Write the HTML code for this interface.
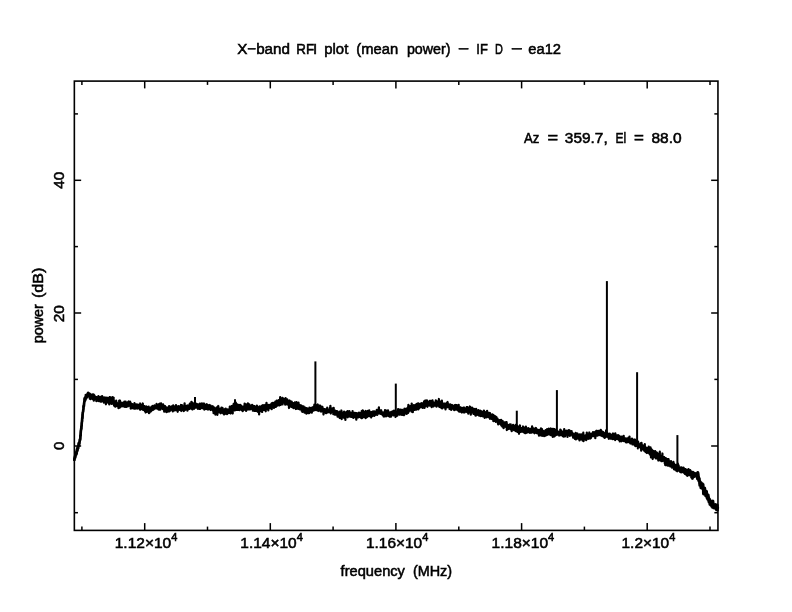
<!DOCTYPE html>
<html><head><meta charset="utf-8"><title>X-band RFI plot</title>
<style>
html,body{margin:0;padding:0;background:#fff;}
body{width:792px;height:612px;overflow:hidden;}
svg{display:block;}
.t{font-family:"Liberation Sans",sans-serif;font-size:15.2px;fill:#000;stroke:#000;stroke-width:0.55px;}
</style></head><body>
<svg width="792" height="612" viewBox="0 0 792 612">
<rect width="792" height="612" fill="#fff"/>
<g stroke="#000" stroke-width="1.6" fill="none" stroke-linecap="butt">
<rect x="74.35" y="81.1" width="643.6" height="449.29999999999995"/>
</g>
<g stroke="#000" stroke-width="1.5" fill="none">
<line x1="144.7" y1="530.4" x2="144.7" y2="523.1"/><line x1="144.7" y1="81.1" x2="144.7" y2="88.39999999999999"/>
<line x1="270.3" y1="530.4" x2="270.3" y2="523.1"/><line x1="270.3" y1="81.1" x2="270.3" y2="88.39999999999999"/>
<line x1="395.9" y1="530.4" x2="395.9" y2="523.1"/><line x1="395.9" y1="81.1" x2="395.9" y2="88.39999999999999"/>
<line x1="521.6" y1="530.4" x2="521.6" y2="523.1"/><line x1="521.6" y1="81.1" x2="521.6" y2="88.39999999999999"/>
<line x1="647.2" y1="530.4" x2="647.2" y2="523.1"/><line x1="647.2" y1="81.1" x2="647.2" y2="88.39999999999999"/>
<line x1="81.9" y1="530.4" x2="81.9" y2="526.6"/><line x1="81.9" y1="81.1" x2="81.9" y2="84.89999999999999"/>
<line x1="207.5" y1="530.4" x2="207.5" y2="526.6"/><line x1="207.5" y1="81.1" x2="207.5" y2="84.89999999999999"/>
<line x1="333.1" y1="530.4" x2="333.1" y2="526.6"/><line x1="333.1" y1="81.1" x2="333.1" y2="84.89999999999999"/>
<line x1="458.8" y1="530.4" x2="458.8" y2="526.6"/><line x1="458.8" y1="81.1" x2="458.8" y2="84.89999999999999"/>
<line x1="584.4" y1="530.4" x2="584.4" y2="526.6"/><line x1="584.4" y1="81.1" x2="584.4" y2="84.89999999999999"/>
<line x1="710.0" y1="530.4" x2="710.0" y2="526.6"/><line x1="710.0" y1="81.1" x2="710.0" y2="84.89999999999999"/>
<line x1="74.35" y1="180.3" x2="81.14999999999999" y2="180.3"/><line x1="717.95" y1="180.3" x2="711.1500000000001" y2="180.3"/>
<line x1="74.35" y1="313.0" x2="81.14999999999999" y2="313.0"/><line x1="717.95" y1="313.0" x2="711.1500000000001" y2="313.0"/>
<line x1="74.35" y1="446.0" x2="81.14999999999999" y2="446.0"/><line x1="717.95" y1="446.0" x2="711.1500000000001" y2="446.0"/>
<line x1="74.35" y1="113.9" x2="77.94999999999999" y2="113.9"/><line x1="717.95" y1="113.9" x2="714.35" y2="113.9"/>
<line x1="74.35" y1="246.6" x2="77.94999999999999" y2="246.6"/><line x1="717.95" y1="246.6" x2="714.35" y2="246.6"/>
<line x1="74.35" y1="379.4" x2="77.94999999999999" y2="379.4"/><line x1="717.95" y1="379.4" x2="714.35" y2="379.4"/>
<line x1="74.35" y1="512.7" x2="77.94999999999999" y2="512.7"/><line x1="717.95" y1="512.7" x2="714.35" y2="512.7"/>
</g>
<path d="M74.3,460.8 74.4,458.8 74.5,458.9 74.6,458.9 74.7,457.7 74.8,457.9 74.9,457.6 75.0,456.0 75.1,457.8 75.2,457.1 75.3,455.9 75.4,455.9 75.5,456.1 75.6,455.2 75.7,454.9 75.8,453.7 75.9,454.9 76.0,454.3 76.1,454.1 76.2,452.4 76.3,454.5 76.4,453.0 76.5,452.3 76.6,453.8 76.7,451.9 76.8,450.6 76.9,451.0 77.0,449.3 77.1,451.5 77.2,450.1 77.3,449.5 77.4,450.5 77.5,448.0 77.6,449.3 77.7,447.0 77.8,447.7 77.9,446.9 78.0,448.5 78.1,448.4 78.2,446.4 78.3,446.9 78.4,445.8 78.5,446.0 78.6,444.6 78.7,443.5 78.8,443.1 78.9,444.4 79.0,445.4 79.1,443.5 79.2,442.6 79.3,444.0 79.4,442.4 79.5,441.9 79.6,441.7 79.7,441.0 79.8,440.5 79.9,439.3 80.0,440.3 80.1,439.5 80.2,439.5 80.3,437.4 80.4,435.2 80.5,435.6 80.6,436.0 80.7,433.5 80.8,432.1 80.9,430.9 81.0,430.0 81.1,429.6 81.2,428.0 81.3,429.0 81.4,426.7 81.5,426.0 81.6,426.0 81.7,425.1 81.8,422.8 81.9,422.3 82.0,421.6 82.1,419.9 82.2,417.8 82.3,418.6 82.4,417.8 82.5,416.5 82.6,414.5 82.7,414.1 82.8,412.8 82.9,412.0 83.0,412.2 83.1,411.4 83.2,410.1 83.3,409.3 83.4,408.7 83.5,407.5 83.6,406.8 83.7,405.6 83.8,405.4 83.9,406.4 84.0,404.7 84.1,403.1 84.2,402.3 84.3,401.3 84.4,401.6 84.5,400.9 84.6,398.8 84.7,399.6 84.8,398.1 84.9,399.4 85.0,398.2 85.1,400.5 85.2,397.0 85.3,397.0 85.4,397.7 85.5,398.6 85.6,397.7 85.7,394.8 85.8,396.7 85.9,396.2 86.0,395.4 86.1,395.0 86.2,398.6 86.3,395.4 86.4,394.7 86.5,396.9 86.6,396.1 86.7,395.8 86.8,397.0 86.9,396.6 87.0,396.4 87.1,397.3 87.2,396.2 87.3,394.9 87.4,395.2 87.5,395.0 87.6,396.1 87.7,394.1 87.8,393.0 87.9,395.8 88.0,393.7 88.1,392.7 88.2,396.2 88.3,394.6 88.4,396.4 88.5,394.8 88.6,394.0 88.7,393.8 88.8,394.9 88.9,395.3 89.0,394.6 89.1,395.4 89.2,393.6 89.3,395.9 89.4,393.3 89.5,395.7 89.6,397.1 89.7,397.7 89.8,398.7 89.9,393.8 90.0,397.3 90.1,398.0 90.2,397.8 90.3,394.9 90.4,397.0 90.5,399.2 90.6,394.2 90.7,397.2 90.8,398.2 90.9,395.5 91.0,397.5 91.1,395.0 91.2,395.5 91.3,395.5 91.4,397.0 91.5,396.6 91.6,398.3 91.7,395.5 91.8,396.7 91.9,398.4 92.0,397.8 92.1,395.0 92.2,398.0 92.3,396.4 92.4,397.7 92.5,397.6 92.6,399.0 92.7,397.4 92.8,394.5 92.9,395.3 93.0,398.4 93.1,397.0 93.2,399.1 93.3,397.9 93.4,396.4 93.5,399.2 93.6,396.4 93.7,394.5 93.8,400.7 93.9,394.8 94.0,398.7 94.1,399.2 94.2,398.0 94.3,395.3 94.4,399.4 94.5,395.7 94.6,395.9 94.7,397.4 94.8,399.2 94.9,398.5 95.0,399.3 95.1,397.5 95.2,397.9 95.3,396.5 95.4,397.8 95.5,399.2 95.6,397.9 95.7,399.1 95.8,397.5 95.9,397.5 96.0,398.5 96.1,398.2 96.2,399.4 96.3,398.8 96.4,401.2 96.5,398.3 96.6,398.3 96.7,397.1 96.8,398.7 96.9,399.7 97.0,397.6 97.1,398.7 97.2,399.8 97.3,398.6 97.4,398.0 97.5,400.3 97.6,399.0 97.7,399.5 97.8,400.7 97.9,400.7 98.0,398.4 98.1,398.2 98.2,399.4 98.3,398.8 98.4,396.2 98.5,401.0 98.6,399.1 98.7,400.2 98.8,397.4 98.9,401.1 99.0,398.3 99.1,399.1 99.2,397.1 99.3,399.0 99.4,399.0 99.5,399.0 99.6,400.0 99.7,399.4 99.8,400.8 99.9,398.7 100.0,397.9 100.1,399.3 100.2,400.3 100.3,401.3 100.4,400.6 100.5,396.8 100.6,400.0 100.7,401.6 100.8,399.6 100.9,398.7 101.0,399.9 101.1,398.7 101.2,400.5 101.3,399.5 101.4,401.6 101.5,400.3 101.6,398.5 101.7,400.5 101.8,401.0 101.9,398.7 102.0,399.0 102.1,396.1 102.2,401.0 102.3,398.7 102.4,396.5 102.5,397.0 102.6,399.3 102.7,400.8 102.8,399.5 102.9,400.4 103.0,398.1 103.1,397.7 103.2,401.1 103.3,400.5 103.4,399.7 103.5,401.7 103.6,398.3 103.7,399.2 103.8,401.3 103.9,402.6 104.0,399.8 104.1,402.3 104.2,398.9 104.3,400.3 104.4,399.6 104.5,397.5 104.6,400.3 104.7,401.3 104.8,399.7 104.9,399.8 105.0,402.0 105.1,398.1 105.2,397.7 105.3,399.0 105.4,398.2 105.5,402.0 105.6,400.5 105.7,398.7 105.8,399.1 105.9,404.3 106.0,399.1 106.1,398.9 106.2,400.5 106.3,401.0 106.4,400.4 106.5,398.7 106.6,398.4 106.7,401.0 106.8,400.0 106.9,397.7 107.0,401.9 107.1,401.3 107.2,399.8 107.3,399.8 107.4,400.5 107.5,399.2 107.6,398.2 107.7,400.7 107.8,398.1 107.9,400.8 108.0,398.1 108.1,400.1 108.2,400.1 108.3,403.0 108.4,398.7 108.5,398.2 108.6,399.4 108.7,398.7 108.8,399.5 108.9,401.0 109.0,401.5 109.1,402.9 109.2,399.3 109.3,404.4 109.4,403.4 109.5,400.2 109.6,397.1 109.7,400.4 109.8,400.7 109.9,397.2 110.0,400.8 110.1,400.4 110.2,399.6 110.3,401.7 110.4,402.3 110.5,400.1 110.6,401.2 110.7,399.9 110.8,399.8 110.9,401.1 111.0,401.8 111.1,400.2 111.2,397.7 111.3,402.0 111.4,398.7 111.5,401.3 111.6,403.9 111.7,401.2 111.8,399.5 111.9,399.1 112.0,403.1 112.1,401.3 112.2,402.2 112.3,402.8 112.4,401.4 112.5,401.0 112.6,400.2 112.7,397.1 112.8,399.6 112.9,401.9 113.0,401.8 113.1,402.8 113.2,402.1 113.3,402.7 113.4,403.8 113.5,401.4 113.6,402.4 113.7,400.5 113.8,404.5 113.9,403.2 114.0,404.0 114.1,405.7 114.2,405.2 114.3,403.6 114.4,405.0 114.5,401.8 114.6,404.7 114.7,404.3 114.8,401.8 114.9,406.4 115.0,403.4 115.1,405.6 115.2,403.9 115.3,406.1 115.4,406.6 115.5,403.4 115.6,402.4 115.7,404.5 115.8,406.0 115.9,404.2 116.0,403.8 116.1,405.5 116.2,400.7 116.3,403.8 116.4,402.8 116.5,405.3 116.6,403.8 116.7,403.2 116.8,404.4 116.9,402.7 117.0,404.9 117.1,403.8 117.2,404.3 117.3,403.8 117.4,406.2 117.5,404.7 117.6,405.6 117.7,405.6 117.8,403.6 117.9,405.7 118.0,405.4 118.1,405.3 118.2,404.2 118.3,404.2 118.4,406.0 118.5,408.1 118.6,403.6 118.7,405.6 118.8,404.2 118.9,406.0 119.0,405.4 119.1,406.4 119.2,400.6 119.3,403.9 119.4,403.3 119.5,404.6 119.6,403.7 119.7,403.8 119.8,405.8 119.9,407.6 120.0,400.5 120.1,404.3 120.2,405.2 120.3,404.7 120.4,404.2 120.5,402.7 120.6,403.3 120.7,405.8 120.8,406.3 120.9,404.8 121.0,403.4 121.1,404.8 121.2,404.3 121.3,405.5 121.4,404.8 121.5,403.7 121.6,404.9 121.7,402.9 121.8,405.9 121.9,406.4 122.0,402.9 122.1,405.3 122.2,403.1 122.3,406.2 122.4,406.0 122.5,404.3 122.6,406.1 122.7,404.0 122.8,403.6 122.9,403.7 123.0,404.4 123.1,404.1 123.2,404.8 123.3,403.6 123.4,405.7 123.5,406.1 123.6,403.8 123.7,402.4 123.8,405.6 123.9,406.2 124.0,404.3 124.1,402.6 124.2,404.9 124.3,406.8 124.4,401.7 124.5,405.2 124.6,404.0 124.7,403.2 124.8,405.2 124.9,402.5 125.0,404.9 125.1,406.5 125.2,404.7 125.3,403.2 125.4,401.8 125.5,402.5 125.6,401.7 125.7,406.9 125.8,404.1 125.9,402.9 126.0,402.5 126.1,402.8 126.2,403.9 126.3,402.5 126.4,406.9 126.5,403.3 126.6,403.2 126.7,404.9 126.8,406.6 126.9,406.4 127.0,403.7 127.1,404.8 127.2,404.6 127.3,405.2 127.4,404.8 127.5,402.9 127.6,402.5 127.7,404.6 127.8,402.6 127.9,406.4 128.0,404.4 128.1,402.8 128.2,403.8 128.3,403.6 128.4,404.1 128.5,405.7 128.6,402.1 128.7,401.5 128.8,404.8 128.9,404.1 129.0,404.6 129.1,405.1 129.2,404.1 129.3,405.6 129.4,403.1 129.5,404.6 129.6,403.3 129.7,402.9 129.8,405.5 129.9,405.5 130.0,401.7 130.1,403.0 130.2,405.2 130.3,406.4 130.4,403.8 130.5,404.5 130.6,402.7 130.7,408.6 130.8,405.6 130.9,406.3 131.0,405.9 131.1,406.4 131.2,405.9 131.3,404.5 131.4,406.2 131.5,405.2 131.6,407.1 131.7,404.1 131.8,404.4 131.9,406.2 132.0,407.2 132.1,405.5 132.2,404.2 132.3,405.2 132.4,404.6 132.5,408.2 132.6,406.8 132.7,407.4 132.8,405.9 132.9,404.7 133.0,407.3 133.1,408.1 133.2,406.5 133.3,405.6 133.4,407.3 133.5,405.1 133.6,406.9 133.7,404.7 133.8,404.3 133.9,406.7 134.0,406.4 134.1,408.7 134.2,405.5 134.3,406.0 134.4,404.3 134.5,403.2 134.6,403.4 134.7,406.7 134.8,404.3 134.9,407.8 135.0,408.3 135.1,405.7 135.2,408.7 135.3,406.6 135.4,407.9 135.5,406.0 135.6,407.8 135.7,404.9 135.8,407.3 135.9,405.7 136.0,406.2 136.1,407.4 136.2,406.8 136.3,406.4 136.4,407.6 136.5,407.7 136.6,404.5 136.7,407.4 136.8,407.6 136.9,405.4 137.0,407.1 137.1,404.6 137.2,408.7 137.3,406.2 137.4,406.5 137.5,408.4 137.6,406.4 137.7,407.5 137.8,405.1 137.9,405.8 138.0,404.6 138.1,406.3 138.2,408.2 138.3,407.0 138.4,408.0 138.5,405.1 138.6,405.4 138.7,406.0 138.8,407.6 138.9,407.2 139.0,406.7 139.1,407.7 139.2,406.5 139.3,406.7 139.4,408.7 139.5,405.9 139.6,407.0 139.7,409.2 139.8,406.9 139.9,407.9 140.0,405.9 140.1,409.8 140.2,403.5 140.3,405.2 140.4,405.4 140.5,409.4 140.6,407.6 140.7,406.7 140.8,405.2 140.9,407.7 141.0,407.4 141.1,406.2 141.2,405.1 141.3,405.7 141.4,407.7 141.5,407.9 141.6,407.6 141.7,407.3 141.8,404.9 141.9,407.7 142.0,406.1 142.1,407.8 142.2,408.4 142.3,406.8 142.4,406.3 142.5,409.4 142.6,408.5 142.7,407.0 142.8,403.5 142.9,408.0 143.0,409.0 143.1,409.8 143.2,407.2 143.3,407.3 143.4,407.6 143.5,409.6 143.6,406.6 143.7,408.2 143.8,407.1 143.9,408.9 144.0,406.2 144.1,409.1 144.2,407.9 144.3,408.3 144.4,409.5 144.5,410.5 144.6,406.2 144.7,410.3 144.8,409.7 144.9,408.5 145.0,411.1 145.1,409.3 145.2,411.0 145.3,408.2 145.4,407.8 145.5,411.0 145.6,412.5 145.7,410.2 145.8,410.6 145.9,408.6 146.0,407.4 146.1,409.1 146.2,411.7 146.3,406.7 146.4,408.8 146.5,406.7 146.6,409.8 146.7,411.0 146.8,407.9 146.9,409.2 147.0,411.8 147.1,409.7 147.2,408.1 147.3,408.0 147.4,407.0 147.5,411.2 147.6,409.0 147.7,411.7 147.8,411.5 147.9,409.2 148.0,409.5 148.1,411.5 148.2,410.5 148.3,410.6 148.4,407.7 148.5,411.5 148.6,408.8 148.7,406.6 148.8,409.1 148.9,410.6 149.0,413.1 149.1,409.3 149.2,407.8 149.3,413.0 149.4,410.0 149.5,409.3 149.6,408.1 149.7,408.1 149.8,411.8 149.9,409.1 150.0,408.7 150.1,408.7 150.2,411.8 150.3,408.5 150.4,410.3 150.5,409.7 150.6,409.6 150.7,407.9 150.8,410.1 150.9,411.5 151.0,409.0 151.1,407.7 151.2,407.1 151.3,409.2 151.4,408.5 151.5,408.7 151.6,408.8 151.7,406.6 151.8,409.9 151.9,409.0 152.0,408.5 152.1,409.0 152.2,410.0 152.3,408.6 152.4,407.2 152.5,410.2 152.6,407.7 152.7,407.3 152.8,406.0 152.9,408.3 153.0,406.7 153.1,407.4 153.2,408.8 153.3,408.2 153.4,409.6 153.5,408.5 153.6,407.4 153.7,407.4 153.8,407.1 153.9,408.8 154.0,407.8 154.1,407.1 154.2,409.0 154.3,407.8 154.4,406.9 154.5,405.3 154.6,408.2 154.7,407.9 154.8,407.5 154.9,406.8 155.0,406.1 155.1,407.0 155.2,407.6 155.3,407.1 155.4,407.1 155.5,406.6 155.6,407.8 155.7,407.6 155.8,406.1 155.9,408.3 156.0,408.4 156.1,408.4 156.2,407.0 156.3,406.9 156.4,405.4 156.5,408.2 156.6,403.9 156.7,406.5 156.8,406.6 156.9,408.3 157.0,407.0 157.1,405.6 157.2,404.9 157.3,405.9 157.4,407.1 157.5,407.1 157.6,406.7 157.7,405.9 157.8,406.6 157.9,408.4 158.0,405.2 158.1,406.9 158.2,409.3 158.3,407.7 158.4,406.2 158.5,407.8 158.6,405.7 158.7,406.8 158.8,409.1 158.9,409.6 159.0,404.2 159.1,407.8 159.2,409.7 159.3,405.9 159.4,407.1 159.5,408.9 159.6,405.9 159.7,407.3 159.8,406.6 159.9,403.7 160.0,407.1 160.1,406.3 160.2,408.0 160.3,409.7 160.4,407.6 160.5,406.0 160.6,407.2 160.7,406.8 160.8,408.0 160.9,404.3 161.0,404.7 161.1,403.4 161.2,407.4 161.3,406.4 161.4,405.5 161.5,405.3 161.6,405.5 161.7,405.0 161.8,405.9 161.9,405.6 162.0,408.4 162.1,406.8 162.2,405.1 162.3,405.5 162.4,408.2 162.5,407.2 162.6,407.0 162.7,407.7 162.8,409.1 162.9,405.0 163.0,405.8 163.1,404.3 163.2,407.8 163.3,406.5 163.4,406.2 163.5,406.1 163.6,408.4 163.7,407.2 163.8,406.7 163.9,409.4 164.0,406.0 164.1,405.8 164.2,411.7 164.3,407.3 164.4,407.1 164.5,406.9 164.6,407.9 164.7,409.3 164.8,409.3 164.9,409.1 165.0,407.9 165.1,406.2 165.2,408.9 165.3,410.8 165.4,410.2 165.5,408.5 165.6,410.0 165.7,408.3 165.8,408.9 165.9,407.2 166.0,408.6 166.1,409.4 166.2,409.0 166.3,410.5 166.4,412.1 166.5,411.2 166.6,408.8 166.7,408.1 166.8,408.2 166.9,407.7 167.0,409.2 167.1,409.8 167.2,409.4 167.3,409.4 167.4,409.3 167.5,408.8 167.6,407.9 167.7,411.6 167.8,410.5 167.9,407.6 168.0,407.6 168.1,408.0 168.2,408.9 168.3,410.8 168.4,410.4 168.5,410.4 168.6,410.4 168.7,410.4 168.8,409.9 168.9,409.4 169.0,408.5 169.1,406.1 169.2,408.5 169.3,411.4 169.4,407.8 169.5,407.7 169.6,410.1 169.7,408.7 169.8,407.8 169.9,410.9 170.0,409.4 170.1,409.6 170.2,407.6 170.3,409.2 170.4,409.0 170.5,409.6 170.6,410.1 170.7,410.0 170.8,408.6 170.9,409.3 171.0,406.6 171.1,409.2 171.2,409.3 171.3,407.6 171.4,407.0 171.5,408.1 171.6,406.3 171.7,408.7 171.8,408.6 171.9,406.7 172.0,408.1 172.1,409.7 172.2,409.6 172.3,409.5 172.4,407.8 172.5,407.5 172.6,407.4 172.7,408.8 172.8,411.4 172.9,410.0 173.0,410.2 173.1,409.9 173.2,405.4 173.3,407.5 173.4,407.2 173.5,409.7 173.6,410.4 173.7,406.8 173.8,407.9 173.9,408.7 174.0,407.1 174.1,406.9 174.2,406.9 174.3,409.2 174.4,406.6 174.5,409.6 174.6,408.1 174.7,409.1 174.8,410.3 174.9,407.0 175.0,406.8 175.1,408.6 175.2,406.5 175.3,406.9 175.4,407.9 175.5,408.3 175.6,406.2 175.7,407.5 175.8,408.9 175.9,410.1 176.0,405.2 176.1,410.1 176.2,409.4 176.3,406.5 176.4,405.9 176.5,408.8 176.6,407.5 176.7,408.4 176.8,409.5 176.9,407.6 177.0,408.4 177.1,408.9 177.2,409.6 177.3,410.9 177.4,410.8 177.5,408.6 177.6,407.9 177.7,411.8 177.8,409.3 177.9,408.9 178.0,406.7 178.1,409.5 178.2,407.2 178.3,407.7 178.4,406.4 178.5,407.6 178.6,408.5 178.7,406.2 178.8,407.1 178.9,408.3 179.0,406.5 179.1,406.6 179.2,407.2 179.3,406.4 179.4,409.4 179.5,407.0 179.6,409.6 179.7,409.9 179.8,406.7 179.9,408.6 180.0,407.8 180.1,406.8 180.2,408.1 180.3,408.2 180.4,409.6 180.5,410.1 180.6,407.0 180.7,408.0 180.8,409.4 180.9,410.4 181.0,405.0 181.1,410.6 181.2,408.4 181.3,411.0 181.4,408.1 181.5,407.5 181.6,408.8 181.7,410.5 181.8,408.8 181.9,405.2 182.0,409.8 182.1,406.4 182.2,407.3 182.3,407.1 182.4,406.0 182.5,406.9 182.6,407.3 182.7,407.8 182.8,408.6 182.9,408.2 183.0,406.4 183.1,408.3 183.2,410.0 183.3,410.0 183.4,408.7 183.5,409.4 183.6,409.8 183.7,410.5 183.8,411.0 183.9,407.9 184.0,407.9 184.1,410.5 184.2,410.6 184.3,410.6 184.4,404.7 184.5,407.9 184.6,403.3 184.7,409.2 184.8,408.2 184.9,408.2 185.0,407.9 185.1,410.0 185.2,407.6 185.3,409.5 185.4,408.8 185.5,408.5 185.6,408.6 185.7,408.0 185.8,406.2 185.9,408.9 186.0,408.9 186.1,407.5 186.2,408.8 186.3,409.0 186.4,405.8 186.5,407.4 186.6,407.0 186.7,406.2 186.8,408.0 186.9,406.3 187.0,406.9 187.1,407.8 187.2,408.0 187.3,407.9 187.4,410.7 187.5,406.6 187.6,407.7 187.7,405.5 187.8,408.0 187.9,409.0 188.0,409.0 188.1,406.2 188.2,406.7 188.3,409.0 188.4,407.0 188.5,408.5 188.6,405.6 188.7,409.1 188.8,408.5 188.9,407.7 189.0,405.7 189.1,406.7 189.2,407.1 189.3,407.3 189.4,406.7 189.5,406.5 189.6,407.1 189.7,408.9 189.8,403.7 189.9,404.7 190.0,404.4 190.1,405.6 190.2,404.0 190.3,407.5 190.4,406.8 190.5,406.2 190.6,405.6 190.7,406.8 190.8,406.8 190.9,407.0 191.0,405.4 191.1,407.5 191.2,404.3 191.3,408.3 191.4,401.8 191.5,405.5 191.6,404.6 191.7,407.5 191.8,404.1 191.9,409.1 192.0,404.0 192.1,409.3 192.2,406.9 192.3,406.3 192.4,406.9 192.5,409.5 192.6,407.5 192.7,402.8 192.8,407.9 192.9,406.5 193.0,403.7 193.1,407.2 193.2,404.2 193.3,406.3 193.4,406.4 193.5,405.0 193.6,407.0 193.7,404.4 193.8,406.2 193.9,405.1 194.0,405.6 194.1,408.8 194.2,406.0 194.3,404.2 194.4,405.6 194.5,404.6 194.6,405.8 194.7,406.1 194.8,405.9 194.9,406.0 195.0,405.0 195.1,406.5 195.2,407.4 195.3,404.9 195.4,405.8 195.5,406.0 195.6,407.7 195.7,407.5 195.8,404.8 195.9,406.0 196.0,403.7 196.1,404.5 196.2,405.9 196.3,406.9 196.4,407.3 196.5,405.5 196.6,403.9 196.7,406.5 196.8,405.7 196.9,406.6 197.0,406.2 197.1,407.0 197.2,406.9 197.3,407.2 197.4,405.3 197.5,407.5 197.6,405.2 197.7,406.1 197.8,408.8 197.9,406.5 198.0,404.3 198.1,408.3 198.2,407.5 198.3,407.7 198.4,406.3 198.5,406.6 198.6,405.7 198.7,405.0 198.8,408.4 198.9,405.5 199.0,405.4 199.1,405.4 199.2,408.9 199.3,407.4 199.4,405.6 199.5,406.0 199.6,406.9 199.7,407.4 199.8,403.7 199.9,407.5 200.0,405.8 200.1,405.1 200.2,405.6 200.3,407.3 200.4,408.8 200.5,406.4 200.6,407.0 200.7,405.0 200.8,406.9 200.9,407.4 201.0,404.0 201.1,405.4 201.2,407.4 201.3,403.6 201.4,405.7 201.5,407.1 201.6,403.7 201.7,405.6 201.8,406.3 201.9,407.6 202.0,404.3 202.1,407.9 202.2,406.7 202.3,408.1 202.4,408.0 202.5,406.8 202.6,407.0 202.7,403.7 202.8,404.3 202.9,404.8 203.0,405.8 203.1,407.8 203.2,403.7 203.3,405.9 203.4,404.4 203.5,404.1 203.6,408.7 203.7,406.6 203.8,408.9 203.9,408.3 204.0,405.1 204.1,403.7 204.2,409.6 204.3,405.9 204.4,404.8 204.5,407.6 204.6,406.8 204.7,405.6 204.8,406.1 204.9,406.9 205.0,406.7 205.1,407.8 205.2,406.1 205.3,406.2 205.4,407.6 205.5,407.2 205.6,408.4 205.7,406.4 205.8,406.6 205.9,405.0 206.0,409.0 206.1,404.7 206.2,407.1 206.3,405.5 206.4,407.3 206.5,408.0 206.6,404.4 206.7,406.6 206.8,404.3 206.9,409.0 207.0,406.3 207.1,404.6 207.2,405.9 207.3,408.9 207.4,409.2 207.5,408.9 207.6,405.8 207.7,406.8 207.8,409.5 207.9,405.9 208.0,406.6 208.1,405.6 208.2,405.3 208.3,408.9 208.4,408.1 208.5,407.8 208.6,408.0 208.7,408.7 208.8,409.4 208.9,407.2 209.0,406.7 209.1,405.7 209.2,408.9 209.3,406.5 209.4,405.0 209.5,406.9 209.6,407.3 209.7,408.5 209.8,408.9 209.9,406.3 210.0,406.3 210.1,407.1 210.2,405.8 210.3,407.5 210.4,408.5 210.5,407.9 210.6,405.5 210.7,406.2 210.8,410.0 210.9,406.6 211.0,409.3 211.1,409.2 211.2,407.8 211.3,406.9 211.4,408.7 211.5,407.2 211.6,408.3 211.7,408.8 211.8,407.6 211.9,408.4 212.0,408.4 212.1,407.0 212.2,408.7 212.3,408.1 212.4,406.3 212.5,408.6 212.6,408.8 212.7,408.4 212.8,406.3 212.9,410.6 213.0,410.5 213.1,410.5 213.2,410.1 213.3,407.8 213.4,409.9 213.5,408.4 213.6,413.2 213.7,409.2 213.8,411.0 213.9,407.7 214.0,408.4 214.1,409.4 214.2,411.3 214.3,411.2 214.4,410.8 214.5,407.7 214.6,412.2 214.7,409.2 214.8,413.1 214.9,413.5 215.0,412.0 215.1,412.3 215.2,408.9 215.3,414.6 215.4,411.0 215.5,412.2 215.6,409.4 215.7,410.5 215.8,408.8 215.9,410.2 216.0,410.6 216.1,410.9 216.2,412.6 216.3,411.2 216.4,410.8 216.5,410.5 216.6,413.4 216.7,409.5 216.8,412.2 216.9,407.4 217.0,409.0 217.1,410.9 217.2,410.0 217.3,414.8 217.4,414.1 217.5,407.9 217.6,408.6 217.7,410.0 217.8,412.8 217.9,411.8 218.0,410.6 218.1,407.9 218.2,408.8 218.3,406.0 218.4,407.7 218.5,410.6 218.6,411.1 218.7,408.0 218.8,410.1 218.9,412.3 219.0,410.1 219.1,409.4 219.2,410.7 219.3,410.6 219.4,409.9 219.5,408.9 219.6,409.1 219.7,409.8 219.8,408.9 219.9,411.7 220.0,411.0 220.1,411.2 220.2,412.7 220.3,412.1 220.4,411.9 220.5,410.3 220.6,409.5 220.7,413.3 220.8,408.9 220.9,409.0 221.0,408.7 221.1,410.4 221.2,410.7 221.3,411.7 221.4,409.8 221.5,407.6 221.6,410.7 221.7,411.8 221.8,410.4 221.9,410.2 222.0,411.3 222.1,412.6 222.2,410.4 222.3,408.4 222.4,409.8 222.5,410.4 222.6,408.0 222.7,411.9 222.8,409.6 222.9,411.6 223.0,411.2 223.1,410.5 223.2,413.4 223.3,410.2 223.4,410.1 223.5,411.5 223.6,412.4 223.7,411.2 223.8,409.8 223.9,412.3 224.0,412.2 224.1,414.5 224.2,411.1 224.3,411.8 224.4,410.7 224.5,409.3 224.6,411.7 224.7,412.9 224.8,410.2 224.9,410.7 225.0,410.0 225.1,413.8 225.2,410.9 225.3,412.8 225.4,410.6 225.5,412.1 225.6,411.1 225.7,408.6 225.8,412.2 225.9,413.0 226.0,409.1 226.1,412.0 226.2,411.7 226.3,410.6 226.4,411.8 226.5,409.3 226.6,412.5 226.7,413.9 226.8,410.2 226.9,411.9 227.0,414.1 227.1,412.1 227.2,411.1 227.3,410.5 227.4,412.1 227.5,411.6 227.6,412.7 227.7,409.5 227.8,413.3 227.9,411.1 228.0,412.6 228.1,410.5 228.2,409.6 228.3,410.7 228.4,410.0 228.5,410.9 228.6,412.4 228.7,413.0 228.8,411.6 228.9,410.5 229.0,410.6 229.1,412.1 229.2,412.9 229.3,410.7 229.4,410.9 229.5,409.9 229.6,411.3 229.7,412.4 229.8,406.6 229.9,411.3 230.0,410.0 230.1,407.3 230.2,411.3 230.3,410.6 230.4,411.1 230.5,408.4 230.6,413.5 230.7,410.4 230.8,409.6 230.9,412.3 231.0,410.9 231.1,411.0 231.2,411.4 231.3,406.4 231.4,411.9 231.5,408.8 231.6,409.6 231.7,410.5 231.8,407.9 231.9,409.3 232.0,409.9 232.1,408.5 232.2,409.2 232.3,406.0 232.4,406.5 232.5,406.4 232.6,408.6 232.7,413.5 232.8,408.2 232.9,407.5 233.0,407.5 233.1,408.9 233.2,408.4 233.3,405.5 233.4,408.6 233.5,407.0 233.6,408.2 233.7,403.9 233.8,404.5 233.9,407.6 234.0,404.0 234.1,407.2 234.2,407.0 234.3,406.7 234.4,406.9 234.5,406.7 234.6,406.9 234.7,405.6 234.8,406.1 234.9,410.5 235.0,407.7 235.1,406.9 235.2,406.5 235.3,404.7 235.4,406.2 235.5,405.5 235.6,407.4 235.7,404.6 235.8,402.5 235.9,405.3 236.0,407.2 236.1,409.9 236.2,407.8 236.3,404.9 236.4,406.1 236.5,405.0 236.6,406.2 236.7,405.2 236.8,404.2 236.9,407.3 237.0,407.0 237.1,406.5 237.2,407.4 237.3,409.9 237.4,407.1 237.5,406.4 237.6,408.3 237.7,404.6 237.8,408.3 237.9,406.0 238.0,406.0 238.1,407.4 238.2,409.8 238.3,406.3 238.4,408.8 238.5,408.0 238.6,405.4 238.7,408.9 238.8,406.4 238.9,405.4 239.0,406.5 239.1,406.7 239.2,408.7 239.3,406.7 239.4,410.1 239.5,408.3 239.6,406.9 239.7,406.8 239.8,408.4 239.9,405.1 240.0,404.9 240.1,406.9 240.2,409.2 240.3,408.6 240.4,408.3 240.5,408.0 240.6,405.0 240.7,407.8 240.8,405.6 240.9,409.5 241.0,408.2 241.1,408.1 241.2,408.8 241.3,408.7 241.4,408.5 241.5,408.7 241.6,407.3 241.7,406.2 241.8,408.7 241.9,410.3 242.0,409.6 242.1,407.8 242.2,409.0 242.3,407.4 242.4,408.7 242.5,407.2 242.6,408.3 242.7,411.1 242.8,409.2 242.9,410.3 243.0,406.9 243.1,407.0 243.2,408.0 243.3,408.8 243.4,407.7 243.5,409.5 243.6,407.1 243.7,410.0 243.8,409.4 243.9,406.3 244.0,408.8 244.1,407.6 244.2,409.4 244.3,407.1 244.4,408.4 244.5,408.7 244.6,403.7 244.7,405.0 244.8,408.0 244.9,407.7 245.0,409.4 245.1,408.2 245.2,405.9 245.3,408.3 245.4,406.7 245.5,407.4 245.6,407.0 245.7,408.3 245.8,405.6 245.9,406.1 246.0,404.4 246.1,410.9 246.2,406.2 246.3,406.4 246.4,406.0 246.5,406.7 246.6,407.0 246.7,408.6 246.8,407.9 246.9,408.1 247.0,406.8 247.1,407.5 247.2,409.4 247.3,407.6 247.4,408.1 247.5,404.5 247.6,408.4 247.7,408.0 247.8,409.5 247.9,403.4 248.0,407.6 248.1,407.3 248.2,407.6 248.3,406.5 248.4,407.8 248.5,408.5 248.6,407.5 248.7,407.0 248.8,407.1 248.9,406.8 249.0,407.5 249.1,406.3 249.2,404.4 249.3,409.4 249.4,404.7 249.5,407.2 249.6,405.4 249.7,406.9 249.8,405.9 249.9,407.2 250.0,406.0 250.1,405.3 250.2,407.7 250.3,409.3 250.4,407.8 250.5,407.4 250.6,405.7 250.7,407.2 250.8,408.0 250.9,406.4 251.0,408.7 251.1,407.4 251.2,408.0 251.3,406.7 251.4,406.8 251.5,407.8 251.6,408.1 251.7,408.1 251.8,406.1 251.9,406.5 252.0,407.6 252.1,404.9 252.2,409.2 252.3,408.2 252.4,407.8 252.5,406.7 252.6,409.0 252.7,407.4 252.8,410.7 252.9,408.4 253.0,405.6 253.1,409.0 253.2,407.1 253.3,407.2 253.4,407.6 253.5,407.8 253.6,408.4 253.7,409.2 253.8,408.7 253.9,407.0 254.0,406.1 254.1,406.9 254.2,408.7 254.3,409.5 254.4,410.9 254.5,406.2 254.6,408.4 254.7,407.9 254.8,407.7 254.9,408.5 255.0,408.0 255.1,408.0 255.2,407.4 255.3,409.0 255.4,410.0 255.5,410.9 255.6,407.7 255.7,406.9 255.8,408.2 255.9,407.3 256.0,410.1 256.1,407.4 256.2,408.8 256.3,406.7 256.4,408.2 256.5,409.0 256.6,411.0 256.7,407.7 256.8,409.3 256.9,405.7 257.0,407.0 257.1,407.6 257.2,408.1 257.3,409.6 257.4,409.9 257.5,406.5 257.6,409.8 257.7,407.3 257.8,411.8 257.9,409.5 258.0,409.3 258.1,408.8 258.2,409.1 258.3,409.2 258.4,408.1 258.5,410.3 258.6,409.6 258.7,410.3 258.8,409.0 258.9,410.1 259.0,407.9 259.1,414.4 259.2,408.0 259.3,408.3 259.4,410.4 259.5,410.8 259.6,407.7 259.7,406.4 259.8,406.8 259.9,407.4 260.0,407.7 260.1,408.6 260.2,410.3 260.3,410.4 260.4,407.8 260.5,409.5 260.6,410.0 260.7,410.8 260.8,408.4 260.9,407.5 261.0,409.7 261.1,410.8 261.2,407.7 261.3,411.4 261.4,411.1 261.5,408.1 261.6,406.1 261.7,407.5 261.8,407.9 261.9,409.2 262.0,405.8 262.1,412.0 262.2,411.8 262.3,407.2 262.4,405.4 262.5,408.0 262.6,408.8 262.7,410.2 262.8,409.2 262.9,407.8 263.0,405.1 263.1,408.8 263.2,409.3 263.3,407.5 263.4,408.4 263.5,408.3 263.6,407.6 263.7,406.2 263.8,408.4 263.9,405.7 264.0,409.9 264.1,406.5 264.2,408.5 264.3,406.7 264.4,408.3 264.5,407.4 264.6,408.5 264.7,406.5 264.8,405.2 264.9,407.2 265.0,407.1 265.1,405.3 265.2,406.5 265.3,405.0 265.4,407.7 265.5,406.9 265.6,407.5 265.7,411.3 265.8,407.6 265.9,407.9 266.0,408.3 266.1,407.1 266.2,406.4 266.3,408.6 266.4,408.8 266.5,402.8 266.6,406.9 266.7,406.6 266.8,406.3 266.9,409.0 267.0,406.3 267.1,408.3 267.2,406.2 267.3,406.3 267.4,408.0 267.5,405.8 267.6,406.6 267.7,405.2 267.8,405.5 267.9,407.8 268.0,407.6 268.1,405.0 268.2,404.9 268.3,410.4 268.4,405.6 268.5,405.3 268.6,407.3 268.7,405.3 268.8,405.9 268.9,407.8 269.0,407.9 269.1,406.1 269.2,408.3 269.3,406.1 269.4,405.9 269.5,406.2 269.6,405.7 269.7,407.0 269.8,406.6 269.9,404.9 270.0,406.3 270.1,405.2 270.2,405.1 270.3,405.8 270.4,407.5 270.5,406.3 270.6,407.8 270.7,408.2 270.8,405.8 270.9,404.9 271.0,404.6 271.1,406.1 271.2,407.0 271.3,408.0 271.4,403.7 271.5,407.0 271.6,407.2 271.7,409.2 271.8,405.8 271.9,405.4 272.0,403.2 272.1,404.2 272.2,403.7 272.3,403.8 272.4,404.0 272.5,403.0 272.6,405.1 272.7,405.8 272.8,406.3 272.9,405.0 273.0,406.7 273.1,406.7 273.2,402.8 273.3,404.6 273.4,403.1 273.5,403.5 273.6,405.2 273.7,404.7 273.8,407.1 273.9,407.9 274.0,405.4 274.1,404.5 274.2,404.5 274.3,404.7 274.4,405.5 274.5,403.5 274.6,405.5 274.7,404.2 274.8,406.1 274.9,406.5 275.0,407.0 275.1,404.1 275.2,402.3 275.3,401.7 275.4,403.8 275.5,402.0 275.6,401.6 275.7,403.5 275.8,402.5 275.9,405.0 276.0,406.8 276.1,403.5 276.2,404.3 276.3,401.4 276.4,404.0 276.5,402.6 276.6,401.9 276.7,400.7 276.8,405.9 276.9,401.0 277.0,401.6 277.1,403.3 277.2,403.7 277.3,403.7 277.4,403.3 277.5,401.8 277.6,404.2 277.7,403.3 277.8,400.8 277.9,405.3 278.0,402.4 278.1,404.2 278.2,400.6 278.3,400.9 278.4,401.8 278.5,401.6 278.6,404.1 278.7,400.1 278.8,402.7 278.9,400.9 279.0,403.1 279.1,402.6 279.2,401.4 279.3,405.5 279.4,402.1 279.5,403.8 279.6,400.1 279.7,401.8 279.8,402.1 279.9,402.1 280.0,401.3 280.1,400.6 280.2,397.1 280.3,400.9 280.4,400.3 280.5,401.2 280.6,402.9 280.7,404.9 280.8,402.3 280.9,403.0 281.0,402.4 281.1,402.5 281.2,402.3 281.3,401.0 281.4,400.8 281.5,401.8 281.6,404.0 281.7,402.4 281.8,403.6 281.9,399.2 282.0,401.5 282.1,401.7 282.2,401.9 282.3,399.0 282.4,398.2 282.5,397.8 282.6,400.4 282.7,404.4 282.8,401.2 282.9,399.0 283.0,401.3 283.1,400.3 283.2,401.0 283.3,400.0 283.4,398.7 283.5,399.9 283.6,401.7 283.7,401.0 283.8,402.4 283.9,398.9 284.0,402.1 284.1,400.6 284.2,400.7 284.3,402.3 284.4,400.3 284.5,400.9 284.6,401.6 284.7,401.7 284.8,402.0 284.9,402.8 285.0,401.7 285.1,400.3 285.2,404.7 285.3,401.1 285.4,401.8 285.5,400.2 285.6,398.1 285.7,400.2 285.8,401.6 285.9,402.3 286.0,401.7 286.1,402.9 286.2,403.2 286.3,403.3 286.4,401.9 286.5,402.1 286.6,401.7 286.7,400.8 286.8,404.3 286.9,400.4 287.0,402.2 287.1,402.7 287.2,399.3 287.3,403.6 287.4,402.1 287.5,403.0 287.6,402.2 287.7,400.5 287.8,403.2 287.9,403.1 288.0,404.5 288.1,403.8 288.2,400.6 288.3,404.9 288.4,404.5 288.5,404.5 288.6,404.2 288.7,402.4 288.8,404.4 288.9,403.1 289.0,408.0 289.1,403.4 289.2,402.2 289.3,403.4 289.4,406.1 289.5,403.2 289.6,400.5 289.7,406.4 289.8,404.7 289.9,403.6 290.0,405.5 290.1,403.1 290.2,402.7 290.3,405.9 290.4,403.8 290.5,405.4 290.6,404.6 290.7,405.9 290.8,404.8 290.9,401.6 291.0,405.7 291.1,404.0 291.2,406.0 291.3,404.9 291.4,406.9 291.5,404.3 291.6,401.7 291.7,404.4 291.8,405.6 291.9,404.4 292.0,404.2 292.1,407.1 292.2,404.7 292.3,406.6 292.4,405.2 292.5,402.9 292.6,403.6 292.7,404.6 292.8,405.6 292.9,403.9 293.0,403.0 293.1,403.6 293.2,404.4 293.3,403.9 293.4,404.4 293.5,408.1 293.6,405.7 293.7,404.1 293.8,405.3 293.9,407.7 294.0,406.3 294.1,405.2 294.2,403.4 294.3,402.9 294.4,405.0 294.5,405.3 294.6,403.1 294.7,403.5 294.8,405.5 294.9,402.3 295.0,403.0 295.1,405.5 295.2,406.5 295.3,406.2 295.4,407.2 295.5,408.1 295.6,407.1 295.7,405.4 295.8,409.0 295.9,408.3 296.0,407.3 296.1,404.6 296.2,406.5 296.3,402.8 296.4,405.4 296.5,402.2 296.6,405.4 296.7,407.6 296.8,406.1 296.9,408.5 297.0,406.1 297.1,406.3 297.2,405.7 297.3,407.0 297.4,406.1 297.5,408.0 297.6,408.7 297.7,406.8 297.8,404.6 297.9,407.1 298.0,408.4 298.1,407.3 298.2,406.8 298.3,407.9 298.4,408.5 298.5,402.6 298.6,408.9 298.7,407.8 298.8,407.4 298.9,405.9 299.0,407.2 299.1,407.8 299.2,404.7 299.3,408.1 299.4,407.2 299.5,409.3 299.6,408.2 299.7,407.0 299.8,407.4 299.9,408.3 300.0,407.6 300.1,408.3 300.2,406.4 300.3,405.7 300.4,406.8 300.5,405.5 300.6,406.6 300.7,408.3 300.8,405.4 300.9,406.1 301.0,409.1 301.1,407.2 301.2,408.1 301.3,406.3 301.4,406.6 301.5,407.8 301.6,410.8 301.7,409.0 301.8,405.9 301.9,409.1 302.0,409.9 302.1,409.6 302.2,406.8 302.3,408.6 302.4,411.9 302.5,407.4 302.6,409.4 302.7,407.8 302.8,407.1 302.9,408.4 303.0,410.6 303.1,410.9 303.2,407.9 303.3,408.6 303.4,408.0 303.5,406.3 303.6,410.3 303.7,411.8 303.8,411.8 303.9,408.9 304.0,411.7 304.1,411.4 304.2,409.3 304.3,409.8 304.4,409.3 304.5,410.3 304.6,412.7 304.7,408.7 304.8,408.3 304.9,411.5 305.0,410.3 305.1,407.5 305.2,408.8 305.3,409.2 305.4,409.5 305.5,410.9 305.6,411.9 305.7,410.2 305.8,410.7 305.9,409.4 306.0,412.0 306.1,412.5 306.2,410.1 306.3,409.4 306.4,413.7 306.5,412.0 306.6,409.2 306.7,408.1 306.8,410.2 306.9,412.4 307.0,409.8 307.1,410.3 307.2,409.9 307.3,411.6 307.4,412.8 307.5,408.8 307.6,410.3 307.7,410.4 307.8,409.8 307.9,409.0 308.0,412.0 308.1,411.0 308.2,411.9 308.3,413.1 308.4,410.3 308.5,411.6 308.6,410.2 308.7,410.7 308.8,411.4 308.9,410.6 309.0,408.6 309.1,413.2 309.2,411.1 309.3,409.2 309.4,407.6 309.5,410.8 309.6,411.7 309.7,412.2 309.8,412.3 309.9,410.0 310.0,411.5 310.1,408.1 310.2,410.6 310.3,411.7 310.4,409.4 310.5,410.0 310.6,410.3 310.7,410.3 310.8,412.3 310.9,408.4 311.0,411.9 311.1,408.0 311.2,408.8 311.3,408.6 311.4,409.5 311.5,408.9 311.6,410.3 311.7,409.5 311.8,412.7 311.9,410.0 312.0,408.9 312.1,409.8 312.2,410.1 312.3,408.8 312.4,407.4 312.5,407.8 312.6,409.2 312.7,410.1 312.8,409.6 312.9,408.6 313.0,409.6 313.1,407.9 313.2,409.0 313.3,410.7 313.4,410.2 313.5,410.4 313.6,407.8 313.7,408.6 313.8,406.7 313.9,409.6 314.0,407.5 314.1,406.1 314.2,407.2 314.3,408.3 314.4,404.6 314.5,405.8 314.6,409.4 314.7,408.0 314.8,407.8 314.9,405.4 315.0,410.2 315.1,409.4 315.2,408.9 315.3,406.1 315.4,408.7 315.5,409.5 315.6,407.3 315.7,407.4 315.8,407.0 315.9,408.6 316.0,407.4 316.1,407.2 316.2,405.5 316.3,405.2 316.4,409.1 316.5,410.0 316.6,408.9 316.7,409.8 316.8,406.8 316.9,407.5 317.0,408.2 317.1,407.3 317.2,410.1 317.3,405.6 317.4,406.7 317.5,407.0 317.6,406.5 317.7,408.8 317.8,404.5 317.9,409.2 318.0,408.8 318.1,407.9 318.2,409.5 318.3,411.0 318.4,407.7 318.5,408.6 318.6,408.1 318.7,408.4 318.8,406.9 318.9,406.6 319.0,408.7 319.1,407.1 319.2,409.3 319.3,409.2 319.4,407.4 319.5,408.6 319.6,408.3 319.7,408.0 319.8,410.0 319.9,408.4 320.0,408.7 320.1,405.5 320.2,409.4 320.3,406.4 320.4,408.0 320.5,411.1 320.6,411.4 320.7,408.2 320.8,407.0 320.9,409.5 321.0,408.4 321.1,409.5 321.2,407.1 321.3,410.8 321.4,411.5 321.5,407.1 321.6,408.2 321.7,408.3 321.8,410.5 321.9,406.6 322.0,409.9 322.1,409.3 322.2,408.5 322.3,410.8 322.4,406.9 322.5,407.8 322.6,408.7 322.7,411.0 322.8,409.5 322.9,408.8 323.0,410.9 323.1,409.5 323.2,409.3 323.3,409.9 323.4,410.9 323.5,414.5 323.6,408.9 323.7,411.0 323.8,410.4 323.9,410.3 324.0,413.0 324.1,412.0 324.2,411.9 324.3,410.2 324.4,409.7 324.5,411.4 324.6,410.5 324.7,410.1 324.8,411.9 324.9,409.1 325.0,409.8 325.1,412.1 325.2,410.8 325.3,411.9 325.4,409.6 325.5,411.9 325.6,409.8 325.7,412.8 325.8,412.0 325.9,411.5 326.0,413.1 326.1,411.3 326.2,409.8 326.3,413.1 326.4,411.2 326.5,412.5 326.6,410.9 326.7,412.4 326.8,409.4 326.9,408.8 327.0,408.5 327.1,411.8 327.2,407.7 327.3,407.9 327.4,408.5 327.5,410.9 327.6,411.2 327.7,409.3 327.8,411.7 327.9,411.0 328.0,412.3 328.1,411.9 328.2,409.5 328.3,410.8 328.4,410.2 328.5,411.2 328.6,410.8 328.7,410.5 328.8,411.5 328.9,410.5 329.0,411.5 329.1,410.4 329.2,410.1 329.3,411.7 329.4,411.8 329.5,412.2 329.6,411.3 329.7,410.0 329.8,410.6 329.9,410.5 330.0,407.6 330.1,408.6 330.2,412.5 330.3,410.1 330.4,405.9 330.5,410.0 330.6,410.4 330.7,408.3 330.8,413.5 330.9,411.8 331.0,411.3 331.1,409.8 331.2,410.8 331.3,411.3 331.4,410.8 331.5,409.0 331.6,410.4 331.7,410.4 331.8,410.7 331.9,408.8 332.0,410.8 332.1,410.4 332.2,410.9 332.3,410.9 332.4,408.5 332.5,412.0 332.6,411.9 332.7,408.8 332.8,410.8 332.9,409.7 333.0,410.4 333.1,412.6 333.2,412.0 333.3,414.2 333.4,411.4 333.5,409.7 333.6,411.6 333.7,407.9 333.8,414.2 333.9,412.0 334.0,412.4 334.1,412.0 334.2,410.6 334.3,411.7 334.4,410.8 334.5,411.3 334.6,412.6 334.7,410.3 334.8,414.7 334.9,410.7 335.0,413.6 335.1,411.4 335.2,410.6 335.3,413.1 335.4,412.8 335.5,412.3 335.6,412.6 335.7,411.8 335.8,413.5 335.9,412.2 336.0,413.0 336.1,414.7 336.2,411.1 336.3,412.3 336.4,412.2 336.5,412.1 336.6,411.3 336.7,413.0 336.8,413.7 336.9,413.3 337.0,411.2 337.1,414.6 337.2,414.7 337.3,413.8 337.4,412.3 337.5,412.5 337.6,416.7 337.7,416.5 337.8,414.7 337.9,412.6 338.0,415.9 338.1,414.4 338.2,416.6 338.3,413.3 338.4,415.0 338.5,414.0 338.6,415.5 338.7,413.5 338.8,415.8 338.9,413.9 339.0,413.2 339.1,415.5 339.2,415.0 339.3,411.6 339.4,414.7 339.5,415.0 339.6,415.2 339.7,418.0 339.8,414.0 339.9,415.0 340.0,412.6 340.1,413.0 340.2,414.3 340.3,415.0 340.4,415.0 340.5,416.3 340.6,416.5 340.7,416.9 340.8,415.1 340.9,416.1 341.0,414.3 341.1,415.9 341.2,416.0 341.3,414.6 341.4,410.5 341.5,414.3 341.6,419.1 341.7,415.1 341.8,414.3 341.9,415.4 342.0,416.9 342.1,415.7 342.2,414.9 342.3,413.2 342.4,414.7 342.5,413.4 342.6,415.7 342.7,417.4 342.8,416.7 342.9,414.2 343.0,413.6 343.1,413.0 343.2,415.7 343.3,415.9 343.4,416.2 343.5,415.5 343.6,413.2 343.7,412.1 343.8,416.6 343.9,413.7 344.0,417.8 344.1,411.7 344.2,413.2 344.3,413.5 344.4,415.3 344.5,415.8 344.6,414.0 344.7,415.7 344.8,412.9 344.9,414.0 345.0,413.0 345.1,413.9 345.2,413.8 345.3,415.2 345.4,419.9 345.5,412.7 345.6,414.4 345.7,415.7 345.8,414.8 345.9,416.8 346.0,413.1 346.1,415.8 346.2,413.4 346.3,415.8 346.4,414.8 346.5,414.9 346.6,413.7 346.7,411.8 346.8,412.9 346.9,415.6 347.0,414.1 347.1,415.6 347.2,412.5 347.3,415.4 347.4,416.0 347.5,411.1 347.6,414.9 347.7,417.3 347.8,413.3 347.9,415.9 348.0,414.4 348.1,415.6 348.2,413.8 348.3,413.2 348.4,413.7 348.5,413.8 348.6,413.4 348.7,413.0 348.8,416.0 348.9,413.5 349.0,412.5 349.1,413.0 349.2,415.1 349.3,411.1 349.4,415.2 349.5,415.5 349.6,416.4 349.7,413.8 349.8,413.3 349.9,414.8 350.0,414.8 350.1,416.6 350.2,414.7 350.3,414.0 350.4,412.7 350.5,414.4 350.6,414.8 350.7,416.5 350.8,414.9 350.9,416.8 351.0,416.7 351.1,413.7 351.2,413.1 351.3,413.9 351.4,414.5 351.5,413.7 351.6,416.0 351.7,416.0 351.8,416.8 351.9,415.4 352.0,414.4 352.1,415.7 352.2,413.7 352.3,415.3 352.4,414.0 352.5,416.9 352.6,411.2 352.7,416.5 352.8,416.5 352.9,415.2 353.0,415.8 353.1,415.6 353.2,417.2 353.3,417.8 353.4,415.4 353.5,417.8 353.6,414.4 353.7,416.0 353.8,416.1 353.9,413.6 354.0,416.0 354.1,414.5 354.2,416.7 354.3,414.2 354.4,412.9 354.5,413.6 354.6,415.6 354.7,416.1 354.8,416.2 354.9,414.5 355.0,416.9 355.1,414.9 355.2,415.4 355.3,417.2 355.4,415.5 355.5,413.0 355.6,416.9 355.7,415.9 355.8,415.3 355.9,417.8 356.0,414.9 356.1,416.8 356.2,416.0 356.3,419.7 356.4,413.1 356.5,416.1 356.6,416.3 356.7,417.4 356.8,415.1 356.9,414.8 357.0,417.8 357.1,415.1 357.2,416.1 357.3,415.6 357.4,416.2 357.5,413.6 357.6,414.8 357.7,415.5 357.8,415.7 357.9,417.2 358.0,416.3 358.1,416.4 358.2,415.4 358.3,417.4 358.4,414.6 358.5,415.3 358.6,413.2 358.7,413.8 358.8,416.7 358.9,415.3 359.0,412.6 359.1,415.3 359.2,415.0 359.3,413.6 359.4,415.8 359.5,414.9 359.6,415.3 359.7,416.7 359.8,414.3 359.9,416.8 360.0,414.8 360.1,414.8 360.2,417.1 360.3,415.7 360.4,414.5 360.5,414.9 360.6,415.4 360.7,412.9 360.8,416.0 360.9,415.0 361.0,413.1 361.1,413.6 361.2,416.3 361.3,413.1 361.4,418.2 361.5,413.3 361.6,415.2 361.7,411.1 361.8,414.8 361.9,414.1 362.0,415.6 362.1,415.1 362.2,414.3 362.3,418.0 362.4,415.9 362.5,413.6 362.6,415.2 362.7,410.4 362.8,413.8 362.9,416.5 363.0,413.8 363.1,414.8 363.2,412.9 363.3,415.8 363.4,414.7 363.5,414.5 363.6,415.9 363.7,417.0 363.8,415.7 363.9,411.9 364.0,415.0 364.1,414.8 364.2,412.7 364.3,412.0 364.4,413.8 364.5,413.9 364.6,414.2 364.7,413.2 364.8,414.5 364.9,414.7 365.0,413.8 365.1,414.8 365.2,413.3 365.3,411.8 365.4,414.2 365.5,415.5 365.6,418.2 365.7,411.0 365.8,413.4 365.9,412.9 366.0,414.6 366.1,412.8 366.2,414.3 366.3,415.6 366.4,413.0 366.5,414.0 366.6,416.5 366.7,415.4 366.8,411.7 366.9,417.2 367.0,413.1 367.1,414.6 367.2,413.5 367.3,413.4 367.4,413.0 367.5,415.0 367.6,412.9 367.7,412.2 367.8,413.2 367.9,414.1 368.0,411.0 368.1,415.2 368.2,413.0 368.3,415.1 368.4,416.1 368.5,414.5 368.6,414.8 368.7,413.3 368.8,413.0 368.9,411.2 369.0,413.7 369.1,413.2 369.2,410.4 369.3,414.4 369.4,416.2 369.5,414.6 369.6,415.7 369.7,413.5 369.8,412.4 369.9,414.0 370.0,413.4 370.1,412.2 370.2,415.5 370.3,414.2 370.4,412.9 370.5,414.2 370.6,413.7 370.7,414.8 370.8,416.3 370.9,413.0 371.0,412.1 371.1,415.9 371.2,417.5 371.3,412.9 371.4,412.5 371.5,412.1 371.6,413.8 371.7,414.0 371.8,413.4 371.9,415.1 372.0,412.6 372.1,412.9 372.2,411.9 372.3,415.9 372.4,415.4 372.5,415.8 372.6,412.5 372.7,415.8 372.8,414.2 372.9,414.8 373.0,414.6 373.1,413.3 373.2,413.5 373.3,411.4 373.4,412.9 373.5,413.3 373.6,411.9 373.7,413.7 373.8,415.4 373.9,412.8 374.0,412.0 374.1,412.1 374.2,413.7 374.3,415.9 374.4,413.5 374.5,413.3 374.6,411.4 374.7,413.7 374.8,414.1 374.9,412.5 375.0,413.0 375.1,412.0 375.2,414.1 375.3,414.9 375.4,413.5 375.5,413.6 375.6,412.9 375.7,411.8 375.8,411.6 375.9,412.1 376.0,412.8 376.1,412.6 376.2,414.1 376.3,413.7 376.4,414.7 376.5,413.6 376.6,412.1 376.7,412.5 376.8,409.9 376.9,414.8 377.0,411.4 377.1,411.6 377.2,414.9 377.3,410.6 377.4,411.2 377.5,412.0 377.6,411.2 377.7,412.1 377.8,412.3 377.9,412.9 378.0,411.7 378.1,412.9 378.2,411.3 378.3,412.7 378.4,413.6 378.5,409.3 378.6,411.6 378.7,412.2 378.8,409.1 378.9,407.4 379.0,412.5 379.1,411.1 379.2,413.3 379.3,412.1 379.4,412.2 379.5,411.7 379.6,412.4 379.7,410.9 379.8,411.5 379.9,413.5 380.0,412.0 380.1,413.2 380.2,412.4 380.3,412.0 380.4,411.1 380.5,413.8 380.6,411.4 380.7,413.2 380.8,410.3 380.9,413.1 381.0,413.3 381.1,411.8 381.2,410.4 381.3,412.6 381.4,413.0 381.5,412.1 381.6,411.9 381.7,414.3 381.8,412.8 381.9,412.4 382.0,414.3 382.1,413.1 382.2,412.1 382.3,414.5 382.4,412.7 382.5,414.6 382.6,412.3 382.7,413.8 382.8,415.2 382.9,414.1 383.0,414.2 383.1,414.1 383.2,414.8 383.3,413.7 383.4,414.2 383.5,413.3 383.6,416.5 383.7,412.4 383.8,414.9 383.9,412.3 384.0,414.6 384.1,415.8 384.2,412.2 384.3,416.5 384.4,412.5 384.5,412.8 384.6,414.5 384.7,412.4 384.8,415.5 384.9,414.8 385.0,410.1 385.1,412.1 385.2,413.1 385.3,414.9 385.4,412.7 385.5,413.2 385.6,415.2 385.7,412.8 385.8,414.7 385.9,412.2 386.0,415.7 386.1,416.3 386.2,412.5 386.3,410.7 386.4,411.7 386.5,415.6 386.6,413.3 386.7,415.7 386.8,412.1 386.9,412.7 387.0,413.9 387.1,415.7 387.2,413.8 387.3,412.5 387.4,414.5 387.5,414.2 387.6,414.8 387.7,413.8 387.8,413.1 387.9,414.0 388.0,410.3 388.1,414.4 388.2,415.8 388.3,414.8 388.4,412.6 388.5,411.7 388.6,415.9 388.7,413.2 388.8,413.6 388.9,414.2 389.0,413.0 389.1,414.0 389.2,416.1 389.3,413.1 389.4,416.7 389.5,414.4 389.6,414.3 389.7,415.2 389.8,415.2 389.9,415.4 390.0,414.6 390.1,412.9 390.2,416.2 390.3,413.6 390.4,412.5 390.5,415.1 390.6,414.7 390.7,413.7 390.8,413.8 390.9,414.6 391.0,416.6 391.1,413.6 391.2,411.8 391.3,412.8 391.4,414.4 391.5,413.4 391.6,412.7 391.7,414.7 391.8,414.7 391.9,413.3 392.0,414.0 392.1,412.7 392.2,412.7 392.3,413.1 392.4,411.6 392.5,414.1 392.6,413.4 392.7,412.8 392.8,413.7 392.9,413.7 393.0,412.4 393.1,412.6 393.2,412.3 393.3,415.5 393.4,411.0 393.5,413.3 393.6,414.6 393.7,411.8 393.8,412.0 393.9,411.9 394.0,410.7 394.1,415.1 394.2,412.9 394.3,411.6 394.4,412.3 394.5,413.5 394.6,412.7 394.7,411.9 394.8,413.9 394.9,411.8 395.0,412.6 395.1,413.4 395.2,412.0 395.3,413.2 395.4,412.1 395.5,417.0 395.6,412.4 395.7,414.1 395.8,411.8 395.9,411.4 396.0,412.8 396.1,412.5 396.2,412.5 396.3,412.9 396.4,414.2 396.5,415.8 396.6,415.9 396.7,413.0 396.8,415.6 396.9,415.4 397.0,411.9 397.1,412.1 397.2,412.7 397.3,415.7 397.4,412.6 397.5,412.4 397.6,414.8 397.7,412.4 397.8,412.5 397.9,413.6 398.0,412.9 398.1,409.1 398.2,410.8 398.3,413.7 398.4,410.5 398.5,414.4 398.6,412.5 398.7,412.9 398.8,413.0 398.9,409.9 399.0,411.5 399.1,410.9 399.2,412.9 399.3,414.7 399.4,412.1 399.5,412.6 399.6,409.6 399.7,411.9 399.8,412.1 399.9,412.1 400.0,413.3 400.1,414.5 400.2,412.4 400.3,413.0 400.4,410.0 400.5,413.2 400.6,412.4 400.7,409.7 400.8,412.8 400.9,411.3 401.0,413.8 401.1,413.0 401.2,412.4 401.3,414.8 401.4,412.0 401.5,411.8 401.6,412.3 401.7,412.4 401.8,410.9 401.9,413.0 402.0,412.8 402.1,411.4 402.2,409.8 402.3,413.9 402.4,414.1 402.5,413.5 402.6,413.6 402.7,414.8 402.8,412.7 402.9,414.6 403.0,411.9 403.1,410.9 403.2,412.2 403.3,411.7 403.4,412.9 403.5,414.8 403.6,412.7 403.7,413.6 403.8,415.2 403.9,414.7 404.0,412.1 404.1,410.9 404.2,415.0 404.3,410.2 404.4,409.0 404.5,408.7 404.6,413.4 404.7,409.4 404.8,411.2 404.9,411.3 405.0,413.4 405.1,409.4 405.2,411.4 405.3,411.8 405.4,413.4 405.5,410.9 405.6,411.6 405.7,410.7 405.8,412.7 405.9,412.4 406.0,410.4 406.1,411.7 406.2,408.7 406.3,410.9 406.4,409.5 406.5,410.1 406.6,412.2 406.7,413.9 406.8,410.9 406.9,410.3 407.0,410.0 407.1,411.6 407.2,410.1 407.3,411.8 407.4,412.6 407.5,411.2 407.6,409.6 407.7,411.3 407.8,409.1 407.9,407.4 408.0,411.7 408.1,412.8 408.2,411.9 408.3,409.3 408.4,404.8 408.5,408.7 408.6,410.7 408.7,409.1 408.8,411.7 408.9,408.4 409.0,410.3 409.1,409.8 409.2,409.8 409.3,407.3 409.4,409.2 409.5,409.7 409.6,408.6 409.7,407.2 409.8,408.4 409.9,407.6 410.0,409.5 410.1,410.4 410.2,409.4 410.3,409.4 410.4,408.5 410.5,409.0 410.6,405.8 410.7,408.8 410.8,410.0 410.9,407.8 411.0,409.6 411.1,406.3 411.2,408.6 411.3,408.2 411.4,409.1 411.5,408.6 411.6,411.7 411.7,403.6 411.8,406.1 411.9,407.3 412.0,408.4 412.1,407.3 412.2,407.2 412.3,405.8 412.4,406.1 412.5,406.8 412.6,410.4 412.7,406.8 412.8,412.2 412.9,409.6 413.0,407.5 413.1,409.1 413.2,409.4 413.3,406.0 413.4,405.4 413.5,410.0 413.6,406.3 413.7,409.0 413.8,408.7 413.9,405.2 414.0,408.6 414.1,408.5 414.2,409.5 414.3,407.5 414.4,408.2 414.5,408.1 414.6,407.1 414.7,409.9 414.8,408.9 414.9,409.7 415.0,407.9 415.1,409.1 415.2,405.8 415.3,406.3 415.4,408.7 415.5,406.8 415.6,406.6 415.7,407.4 415.8,404.7 415.9,407.3 416.0,407.8 416.1,406.5 416.2,405.3 416.3,409.6 416.4,407.5 416.5,405.3 416.6,406.0 416.7,404.4 416.8,404.2 416.9,403.9 417.0,405.5 417.1,407.3 417.2,407.8 417.3,406.4 417.4,408.1 417.5,407.4 417.6,404.8 417.7,405.2 417.8,406.9 417.9,407.5 418.0,408.0 418.1,404.3 418.2,403.4 418.3,409.4 418.4,405.9 418.5,407.8 418.6,406.3 418.7,404.1 418.8,408.3 418.9,406.8 419.0,408.3 419.1,407.0 419.2,404.5 419.3,405.9 419.4,407.5 419.5,404.9 419.6,406.2 419.7,407.6 419.8,404.0 419.9,405.2 420.0,406.0 420.1,407.2 420.2,405.6 420.3,404.6 420.4,406.5 420.5,404.7 420.6,406.2 420.7,406.1 420.8,405.2 420.9,406.8 421.0,407.2 421.1,403.4 421.2,406.1 421.3,405.1 421.4,404.8 421.5,405.4 421.6,407.0 421.7,405.0 421.8,404.7 421.9,403.2 422.0,404.8 422.1,405.1 422.2,403.6 422.3,404.5 422.4,405.7 422.5,407.0 422.6,404.5 422.7,407.9 422.8,406.3 422.9,406.1 423.0,405.7 423.1,404.9 423.2,403.8 423.3,404.6 423.4,404.7 423.5,404.8 423.6,406.9 423.7,407.6 423.8,405.3 423.9,406.0 424.0,403.4 424.1,401.4 424.2,404.2 424.3,404.7 424.4,406.4 424.5,407.9 424.6,404.7 424.7,406.2 424.8,405.9 424.9,404.5 425.0,405.4 425.1,404.7 425.2,406.4 425.3,402.4 425.4,400.5 425.5,404.2 425.6,405.3 425.7,405.5 425.8,403.0 425.9,404.6 426.0,402.8 426.1,404.8 426.2,402.7 426.3,402.2 426.4,405.2 426.5,401.9 426.6,401.6 426.7,405.0 426.8,403.9 426.9,400.3 427.0,405.6 427.1,402.0 427.2,403.1 427.3,403.6 427.4,406.8 427.5,403.8 427.6,405.2 427.7,403.6 427.8,404.6 427.9,401.7 428.0,403.8 428.1,402.9 428.2,402.3 428.3,404.2 428.4,405.4 428.5,404.5 428.6,403.3 428.7,404.9 428.8,402.1 428.9,404.3 429.0,404.6 429.1,403.7 429.2,403.4 429.3,404.0 429.4,402.9 429.5,403.5 429.6,404.9 429.7,400.9 429.8,405.7 429.9,404.5 430.0,404.1 430.1,402.3 430.2,403.2 430.3,402.9 430.4,404.8 430.5,404.7 430.6,405.5 430.7,403.9 430.8,400.8 430.9,402.3 431.0,403.2 431.1,404.3 431.2,401.5 431.3,403.5 431.4,403.9 431.5,402.9 431.6,403.5 431.7,407.2 431.8,403.7 431.9,406.7 432.0,404.1 432.1,402.7 432.2,404.6 432.3,403.1 432.4,403.6 432.5,400.4 432.6,404.3 432.7,402.9 432.8,405.4 432.9,403.9 433.0,403.2 433.1,402.2 433.2,403.8 433.3,403.2 433.4,402.6 433.5,406.5 433.6,403.5 433.7,405.0 433.8,405.9 433.9,404.3 434.0,404.6 434.1,404.5 434.2,405.1 434.3,404.6 434.4,404.5 434.5,403.9 434.6,403.0 434.7,403.1 434.8,402.8 434.9,404.0 435.0,405.7 435.1,402.3 435.2,402.8 435.3,402.3 435.4,403.7 435.5,405.3 435.6,403.3 435.7,404.2 435.8,400.3 435.9,403.6 436.0,404.5 436.1,402.9 436.2,401.4 436.3,404.6 436.4,403.7 436.5,406.6 436.6,403.1 436.7,403.7 436.8,403.4 436.9,404.1 437.0,401.3 437.1,406.0 437.2,405.0 437.3,403.7 437.4,403.5 437.5,404.8 437.6,404.6 437.7,403.5 437.8,403.9 437.9,404.6 438.0,403.5 438.1,403.7 438.2,403.5 438.3,403.7 438.4,402.3 438.5,402.8 438.6,404.8 438.7,405.4 438.8,404.2 438.9,399.0 439.0,402.1 439.1,404.9 439.2,406.8 439.3,406.1 439.4,404.1 439.5,403.9 439.6,403.8 439.7,407.0 439.8,404.8 439.9,403.1 440.0,405.9 440.1,405.7 440.2,401.5 440.3,403.6 440.4,406.0 440.5,405.9 440.6,402.7 440.7,404.6 440.8,405.9 440.9,405.1 441.0,403.1 441.1,404.4 441.2,405.6 441.3,405.4 441.4,403.3 441.5,408.2 441.6,405.1 441.7,402.5 441.8,404.3 441.9,400.7 442.0,403.8 442.1,404.8 442.2,408.4 442.3,405.1 442.4,405.4 442.5,406.0 442.6,405.2 442.7,404.0 442.8,406.9 442.9,405.7 443.0,407.3 443.1,406.5 443.2,403.6 443.3,404.4 443.4,404.5 443.5,404.5 443.6,405.7 443.7,404.8 443.8,403.9 443.9,407.3 444.0,407.2 444.1,405.2 444.2,403.6 444.3,404.3 444.4,404.1 444.5,403.9 444.6,403.8 444.7,405.6 444.8,405.7 444.9,405.9 445.0,403.9 445.1,405.8 445.2,408.3 445.3,405.7 445.4,404.8 445.5,409.4 445.6,405.9 445.7,404.5 445.8,406.8 445.9,404.5 446.0,405.0 446.1,407.1 446.2,404.7 446.3,403.4 446.4,406.7 446.5,406.9 446.6,403.7 446.7,405.2 446.8,407.3 446.9,406.1 447.0,407.0 447.1,405.7 447.2,404.9 447.3,405.1 447.4,405.5 447.5,406.2 447.6,402.0 447.7,403.2 447.8,406.0 447.9,407.0 448.0,405.1 448.1,406.1 448.2,404.5 448.3,404.1 448.4,406.4 448.5,406.1 448.6,405.5 448.7,404.3 448.8,406.4 448.9,406.2 449.0,405.9 449.1,406.2 449.2,405.8 449.3,407.2 449.4,407.0 449.5,409.0 449.6,408.5 449.7,406.4 449.8,404.7 449.9,407.4 450.0,405.7 450.1,408.8 450.2,404.4 450.3,406.0 450.4,408.9 450.5,406.7 450.6,407.7 450.7,407.7 450.8,406.0 450.9,408.0 451.0,405.5 451.1,406.3 451.2,409.9 451.3,406.6 451.4,407.4 451.5,405.3 451.6,408.9 451.7,405.6 451.8,405.9 451.9,406.1 452.0,405.6 452.1,405.0 452.2,406.6 452.3,406.4 452.4,406.9 452.5,405.7 452.6,405.8 452.7,406.7 452.8,407.2 452.9,405.9 453.0,407.2 453.1,406.9 453.2,408.8 453.3,408.2 453.4,408.1 453.5,408.8 453.6,406.5 453.7,409.4 453.8,407.7 453.9,406.7 454.0,408.1 454.1,405.9 454.2,410.1 454.3,407.9 454.4,405.4 454.5,406.0 454.6,406.9 454.7,406.8 454.8,408.3 454.9,409.0 455.0,409.2 455.1,408.5 455.2,406.4 455.3,409.4 455.4,409.6 455.5,405.0 455.6,407.1 455.7,407.4 455.8,406.8 455.9,409.5 456.0,408.7 456.1,408.1 456.2,406.3 456.3,405.1 456.4,406.8 456.5,406.9 456.6,406.9 456.7,405.1 456.8,406.0 456.9,407.6 457.0,408.8 457.1,407.6 457.2,408.0 457.3,408.3 457.4,408.3 457.5,410.2 457.6,407.3 457.7,408.8 457.8,406.6 457.9,410.3 458.0,409.7 458.1,410.1 458.2,408.8 458.3,408.5 458.4,406.9 458.5,409.2 458.6,410.8 458.7,404.8 458.8,411.4 458.9,407.7 459.0,409.6 459.1,407.8 459.2,408.8 459.3,410.2 459.4,408.8 459.5,411.7 459.6,409.2 459.7,410.1 459.8,408.3 459.9,408.5 460.0,408.7 460.1,410.0 460.2,411.7 460.3,409.4 460.4,407.5 460.5,408.5 460.6,407.4 460.7,410.2 460.8,409.5 460.9,407.9 461.0,409.0 461.1,411.0 461.2,410.3 461.3,408.8 461.4,410.8 461.5,410.3 461.6,408.9 461.7,410.0 461.8,412.5 461.9,408.2 462.0,411.4 462.1,409.7 462.2,410.8 462.3,410.5 462.4,410.4 462.5,409.8 462.6,410.1 462.7,411.1 462.8,410.8 462.9,408.0 463.0,410.8 463.1,412.1 463.2,411.5 463.3,410.6 463.4,407.6 463.5,411.2 463.6,411.2 463.7,412.4 463.8,408.9 463.9,409.9 464.0,409.5 464.1,409.8 464.2,407.7 464.3,409.5 464.4,409.5 464.5,409.6 464.6,412.5 464.7,409.2 464.8,409.5 464.9,411.7 465.0,409.3 465.1,411.8 465.2,410.7 465.3,409.1 465.4,409.0 465.5,410.2 465.6,409.7 465.7,410.1 465.8,409.1 465.9,410.8 466.0,409.0 466.1,409.3 466.2,409.7 466.3,408.1 466.4,409.4 466.5,409.6 466.6,407.8 466.7,407.2 466.8,411.7 466.9,409.4 467.0,409.6 467.1,408.9 467.2,412.1 467.3,409.5 467.4,407.2 467.5,410.5 467.6,408.3 467.7,410.4 467.8,409.5 467.9,411.6 468.0,410.4 468.1,409.1 468.2,411.8 468.3,413.7 468.4,408.9 468.5,411.3 468.6,410.2 468.7,410.3 468.8,407.8 468.9,408.2 469.0,411.7 469.1,409.8 469.2,408.8 469.3,412.2 469.4,411.4 469.5,410.6 469.6,408.1 469.7,409.5 469.8,411.7 469.9,406.5 470.0,407.1 470.1,408.3 470.2,410.9 470.3,409.8 470.4,410.1 470.5,409.7 470.6,409.6 470.7,411.2 470.8,414.7 470.9,410.1 471.0,411.3 471.1,408.7 471.2,411.7 471.3,409.5 471.4,409.6 471.5,408.6 471.6,408.3 471.7,408.6 471.8,408.1 471.9,407.7 472.0,412.4 472.1,410.4 472.2,411.2 472.3,410.6 472.4,407.8 472.5,410.0 472.6,408.7 472.7,408.9 472.8,410.0 472.9,410.5 473.0,410.4 473.1,410.6 473.2,410.0 473.3,410.5 473.4,412.4 473.5,413.9 473.6,412.4 473.7,410.4 473.8,411.4 473.9,412.3 474.0,412.5 474.1,412.8 474.2,412.9 474.3,411.8 474.4,410.8 474.5,409.0 474.6,412.9 474.7,412.3 474.8,410.2 474.9,411.6 475.0,411.0 475.1,411.0 475.2,414.3 475.3,411.3 475.4,415.5 475.5,411.7 475.6,410.9 475.7,412.3 475.8,415.7 475.9,412.0 476.0,413.0 476.1,408.9 476.2,413.3 476.3,410.4 476.4,412.3 476.5,414.6 476.6,412.3 476.7,413.8 476.8,412.4 476.9,412.3 477.0,413.3 477.1,414.6 477.2,413.2 477.3,413.1 477.4,411.7 477.5,410.7 477.6,413.5 477.7,413.0 477.8,413.7 477.9,414.9 478.0,414.6 478.1,412.1 478.2,413.8 478.3,413.8 478.4,413.1 478.5,410.1 478.6,412.3 478.7,413.4 478.8,414.6 478.9,413.1 479.0,411.5 479.1,415.6 479.2,413.5 479.3,412.9 479.4,414.4 479.5,414.7 479.6,413.5 479.7,412.8 479.8,412.8 479.9,414.9 480.0,413.5 480.1,414.5 480.2,410.9 480.3,413.0 480.4,413.2 480.5,413.1 480.6,410.9 480.7,413.2 480.8,416.2 480.9,414.3 481.0,413.1 481.1,412.8 481.2,411.9 481.3,414.3 481.4,412.8 481.5,413.4 481.6,415.3 481.7,415.4 481.8,415.0 481.9,411.6 482.0,413.2 482.1,415.8 482.2,412.3 482.3,416.0 482.4,414.1 482.5,415.6 482.6,413.5 482.7,412.4 482.8,412.7 482.9,416.4 483.0,413.8 483.1,412.4 483.2,415.5 483.3,412.0 483.4,414.1 483.5,414.8 483.6,414.8 483.7,415.0 483.8,414.3 483.9,410.7 484.0,414.8 484.1,414.4 484.2,414.2 484.3,415.2 484.4,415.6 484.5,414.8 484.6,416.8 484.7,417.8 484.8,415.0 484.9,414.1 485.0,412.7 485.1,415.5 485.2,412.0 485.3,417.2 485.4,416.1 485.5,413.9 485.6,415.7 485.7,413.4 485.8,413.1 485.9,415.9 486.0,413.3 486.1,415.2 486.2,414.7 486.3,417.2 486.4,415.4 486.5,417.3 486.6,416.3 486.7,413.8 486.8,413.3 486.9,411.9 487.0,415.1 487.1,410.9 487.2,413.9 487.3,411.5 487.4,414.2 487.5,416.2 487.6,413.9 487.7,414.4 487.8,414.6 487.9,415.7 488.0,413.1 488.1,415.5 488.2,415.2 488.3,413.8 488.4,413.9 488.5,417.2 488.6,416.5 488.7,416.1 488.8,414.2 488.9,415.0 489.0,413.6 489.1,412.9 489.2,414.9 489.3,414.7 489.4,413.7 489.5,413.8 489.6,416.2 489.7,415.0 489.8,413.3 489.9,418.8 490.0,413.1 490.1,416.1 490.2,414.3 490.3,416.8 490.4,416.0 490.5,417.4 490.6,415.8 490.7,414.8 490.8,418.1 490.9,415.9 491.0,415.7 491.1,415.8 491.2,415.1 491.3,416.8 491.4,418.8 491.5,418.6 491.6,416.9 491.7,417.5 491.8,417.8 491.9,415.8 492.0,419.0 492.1,417.3 492.2,414.3 492.3,418.0 492.4,415.8 492.5,417.7 492.6,418.3 492.7,416.9 492.8,417.9 492.9,419.6 493.0,415.6 493.1,414.9 493.2,417.6 493.3,417.5 493.4,421.1 493.5,419.5 493.6,418.9 493.7,418.1 493.8,415.4 493.9,416.4 494.0,418.0 494.1,418.8 494.2,418.0 494.3,418.9 494.4,419.8 494.5,417.8 494.6,418.3 494.7,417.6 494.8,420.9 494.9,416.1 495.0,420.2 495.1,420.5 495.2,416.4 495.3,418.8 495.4,421.2 495.5,418.3 495.6,418.9 495.7,419.8 495.8,421.9 495.9,420.9 496.0,419.0 496.1,418.1 496.2,417.9 496.3,420.7 496.4,417.0 496.5,419.5 496.6,421.3 496.7,418.6 496.8,420.0 496.9,420.4 497.0,421.7 497.1,418.6 497.2,420.8 497.3,420.6 497.4,420.9 497.5,418.5 497.6,421.6 497.7,419.7 497.8,420.8 497.9,419.8 498.0,424.0 498.1,421.2 498.2,424.4 498.3,420.3 498.4,420.9 498.5,423.5 498.6,420.8 498.7,422.1 498.8,423.2 498.9,421.0 499.0,420.6 499.1,421.3 499.2,423.2 499.3,422.4 499.4,423.7 499.5,421.4 499.6,421.2 499.7,420.2 499.8,421.5 499.9,421.2 500.0,421.9 500.1,420.7 500.2,421.1 500.3,421.8 500.4,423.7 500.5,421.8 500.6,421.5 500.7,424.0 500.8,424.5 500.9,422.1 501.0,422.2 501.1,419.9 501.2,420.4 501.3,422.7 501.4,424.9 501.5,425.6 501.6,424.1 501.7,422.2 501.8,423.8 501.9,420.8 502.0,423.0 502.1,421.4 502.2,423.2 502.3,425.4 502.4,426.6 502.5,423.7 502.6,424.0 502.7,421.0 502.8,422.6 502.9,425.9 503.0,425.4 503.1,425.0 503.2,424.5 503.3,426.3 503.4,423.5 503.5,423.7 503.6,428.2 503.7,422.8 503.8,424.8 503.9,423.6 504.0,426.5 504.1,423.9 504.2,423.8 504.3,424.0 504.4,425.7 504.5,423.0 504.6,422.4 504.7,424.5 504.8,424.2 504.9,425.6 505.0,424.3 505.1,424.0 505.2,425.4 505.3,425.6 505.4,426.6 505.5,425.2 505.6,422.4 505.7,425.2 505.8,425.3 505.9,425.2 506.0,426.2 506.1,425.0 506.2,427.2 506.3,425.1 506.4,427.7 506.5,424.0 506.6,422.2 506.7,424.4 506.8,430.1 506.9,425.5 507.0,425.8 507.1,426.4 507.2,425.5 507.3,426.5 507.4,426.4 507.5,429.4 507.6,428.1 507.7,426.8 507.8,427.5 507.9,427.4 508.0,424.9 508.1,428.3 508.2,425.7 508.3,427.9 508.4,427.0 508.5,428.1 508.6,428.9 508.7,427.7 508.8,426.1 508.9,426.4 509.0,427.7 509.1,426.3 509.2,426.4 509.3,426.8 509.4,426.5 509.5,427.8 509.6,426.4 509.7,427.2 509.8,426.0 509.9,424.5 510.0,428.3 510.1,428.6 510.2,426.4 510.3,428.4 510.4,427.7 510.5,425.5 510.6,429.1 510.7,424.3 510.8,427.3 510.9,428.5 511.0,425.7 511.1,429.8 511.2,426.6 511.3,429.4 511.4,427.2 511.5,428.6 511.6,427.5 511.7,431.2 511.8,428.2 511.9,429.2 512.0,428.8 512.1,428.0 512.2,427.4 512.3,428.4 512.4,429.3 512.5,429.2 512.6,428.7 512.7,427.7 512.8,429.0 512.9,426.4 513.0,427.9 513.1,424.9 513.2,427.0 513.3,427.8 513.4,425.9 513.5,426.4 513.6,429.5 513.7,428.9 513.8,429.8 513.9,430.0 514.0,429.2 514.1,429.5 514.2,428.7 514.3,430.3 514.4,426.1 514.5,428.1 514.6,430.0 514.7,429.7 514.8,428.6 514.9,428.0 515.0,429.8 515.1,428.3 515.2,426.9 515.3,430.3 515.4,428.0 515.5,428.9 515.6,426.2 515.7,424.8 515.8,429.4 515.9,431.2 516.0,425.3 516.1,428.0 516.2,429.6 516.3,429.1 516.4,428.9 516.5,428.8 516.6,427.4 516.7,430.5 516.8,430.4 516.9,429.5 517.0,425.5 517.1,431.5 517.2,428.9 517.3,429.8 517.4,431.9 517.5,431.0 517.6,428.9 517.7,430.7 517.8,430.0 517.9,428.2 518.0,429.3 518.1,426.5 518.2,426.8 518.3,429.5 518.4,431.3 518.5,427.7 518.6,431.0 518.7,429.5 518.8,432.0 518.9,428.8 519.0,433.8 519.1,430.0 519.2,429.0 519.3,429.8 519.4,426.6 519.5,429.9 519.6,428.9 519.7,430.2 519.8,429.0 519.9,425.4 520.0,425.6 520.1,428.5 520.2,427.6 520.3,430.9 520.4,427.9 520.5,430.2 520.6,429.3 520.7,431.9 520.8,429.7 520.9,429.9 521.0,428.1 521.1,430.2 521.2,430.7 521.3,429.5 521.4,430.8 521.5,428.2 521.6,429.4 521.7,430.4 521.8,429.3 521.9,431.6 522.0,430.8 522.1,428.9 522.2,428.4 522.3,429.8 522.4,428.8 522.5,429.3 522.6,428.2 522.7,431.1 522.8,430.2 522.9,430.4 523.0,431.2 523.1,426.5 523.2,430.1 523.3,429.7 523.4,431.1 523.5,430.8 523.6,430.9 523.7,432.1 523.8,427.3 523.9,428.5 524.0,432.0 524.1,432.4 524.2,429.0 524.3,431.9 524.4,431.5 524.5,428.2 524.6,429.4 524.7,430.8 524.8,430.2 524.9,433.0 525.0,431.3 525.1,431.7 525.2,429.4 525.3,428.5 525.4,429.5 525.5,432.5 525.6,433.2 525.7,429.2 525.8,430.2 525.9,426.7 526.0,432.4 526.1,428.6 526.2,431.8 526.3,432.4 526.4,428.5 526.5,429.2 526.6,431.6 526.7,432.6 526.8,429.8 526.9,429.0 527.0,431.1 527.1,432.5 527.2,428.9 527.3,429.4 527.4,432.3 527.5,430.9 527.6,429.4 527.7,430.6 527.8,431.4 527.9,432.2 528.0,431.1 528.1,430.6 528.2,428.2 528.3,431.5 528.4,431.5 528.5,431.0 528.6,430.7 528.7,430.9 528.8,432.2 528.9,430.2 529.0,428.9 529.1,432.1 529.2,430.2 529.3,430.4 529.4,431.4 529.5,430.4 529.6,430.7 529.7,429.1 529.8,432.8 529.9,428.8 530.0,432.8 530.1,429.0 530.2,429.8 530.3,430.2 530.4,432.2 530.5,431.2 530.6,430.2 530.7,429.0 530.8,432.4 530.9,431.0 531.0,431.6 531.1,430.7 531.2,430.2 531.3,432.0 531.4,431.4 531.5,432.7 531.6,431.3 531.7,428.9 531.8,432.2 531.9,431.1 532.0,430.7 532.1,426.4 532.2,429.8 532.3,431.3 532.4,430.1 532.5,431.5 532.6,432.0 532.7,431.1 532.8,429.7 532.9,431.8 533.0,431.7 533.1,430.8 533.2,428.3 533.3,429.3 533.4,432.4 533.5,430.8 533.6,428.5 533.7,430.9 533.8,431.3 533.9,432.2 534.0,431.9 534.1,431.8 534.2,430.1 534.3,428.7 534.4,430.3 534.5,433.3 534.6,429.0 534.7,432.6 534.8,429.0 534.9,429.4 535.0,431.5 535.1,430.1 535.2,431.0 535.3,429.6 535.4,431.5 535.5,432.6 535.6,429.2 535.7,432.2 535.8,432.0 535.9,432.6 536.0,428.0 536.1,432.8 536.2,429.7 536.3,431.1 536.4,430.8 536.5,430.0 536.6,430.3 536.7,430.5 536.8,431.8 536.9,432.7 537.0,431.2 537.1,432.8 537.2,431.9 537.3,433.4 537.4,429.7 537.5,431.9 537.6,431.7 537.7,431.9 537.8,432.3 537.9,433.0 538.0,432.0 538.1,432.6 538.2,431.4 538.3,431.6 538.4,430.9 538.5,433.5 538.6,433.1 538.7,433.8 538.8,431.3 538.9,431.7 539.0,435.7 539.1,433.6 539.2,429.9 539.3,433.1 539.4,432.6 539.5,431.6 539.6,431.7 539.7,430.8 539.8,431.3 539.9,431.0 540.0,430.4 540.1,431.6 540.2,430.9 540.3,433.3 540.4,433.8 540.5,432.0 540.6,431.8 540.7,433.3 540.8,432.1 540.9,435.4 541.0,428.4 541.1,428.9 541.2,430.7 541.3,433.1 541.4,433.6 541.5,431.7 541.6,432.5 541.7,432.1 541.8,433.2 541.9,435.6 542.0,429.2 542.1,435.9 542.2,434.2 542.3,432.2 542.4,433.4 542.5,432.6 542.6,433.4 542.7,433.4 542.8,433.9 542.9,431.2 543.0,433.7 543.1,431.8 543.2,432.4 543.3,434.0 543.4,432.2 543.5,433.3 543.6,433.3 543.7,433.0 543.8,431.0 543.9,433.6 544.0,433.1 544.1,436.2 544.2,431.3 544.3,434.4 544.4,432.2 544.5,432.4 544.6,435.4 544.7,432.6 544.8,434.0 544.9,433.0 545.0,431.4 545.1,432.5 545.2,432.1 545.3,432.4 545.4,435.6 545.5,433.5 545.6,430.2 545.7,435.6 545.8,433.3 545.9,434.1 546.0,435.1 546.1,431.5 546.2,433.2 546.3,432.5 546.4,432.2 546.5,432.3 546.6,432.9 546.7,434.5 546.8,433.9 546.9,433.1 547.0,434.5 547.1,429.2 547.2,432.8 547.3,433.2 547.4,433.2 547.5,434.8 547.6,432.9 547.7,434.7 547.8,432.4 547.9,433.7 548.0,432.8 548.1,432.3 548.2,433.4 548.3,433.5 548.4,431.3 548.5,434.1 548.6,432.2 548.7,432.8 548.8,428.6 548.9,432.6 549.0,429.7 549.1,433.9 549.2,431.4 549.3,431.9 549.4,432.3 549.5,430.6 549.6,432.6 549.7,430.7 549.8,432.3 549.9,433.9 550.0,434.5 550.1,434.7 550.2,432.2 550.3,431.1 550.4,433.3 550.5,434.9 550.6,431.2 550.7,434.6 550.8,432.3 550.9,428.5 551.0,432.6 551.1,435.3 551.2,433.6 551.3,434.1 551.4,433.1 551.5,429.9 551.6,428.9 551.7,430.9 551.8,431.9 551.9,430.9 552.0,431.2 552.1,433.6 552.2,434.6 552.3,429.9 552.4,430.8 552.5,432.3 552.6,432.1 552.7,428.9 552.8,436.9 552.9,433.5 553.0,433.0 553.1,429.6 553.2,432.9 553.3,430.7 553.4,433.3 553.5,433.0 553.6,432.6 553.7,433.2 553.8,431.7 553.9,432.9 554.0,429.0 554.1,433.7 554.2,432.4 554.3,436.5 554.4,432.8 554.5,429.2 554.6,435.0 554.7,431.6 554.8,431.0 554.9,432.7 555.0,434.7 555.1,435.7 555.2,432.2 555.3,433.1 555.4,433.2 555.5,431.9 555.6,432.1 555.7,432.7 555.8,432.8 555.9,434.5 556.0,430.0 556.1,433.7 556.2,433.5 556.3,435.0 556.4,432.4 556.5,432.4 556.6,433.2 556.7,432.2 556.8,432.1 556.9,432.0 557.0,432.1 557.1,431.5 557.2,432.2 557.3,431.9 557.4,432.0 557.5,431.1 557.6,434.6 557.7,433.6 557.8,433.1 557.9,431.6 558.0,434.2 558.1,432.9 558.2,433.1 558.3,433.4 558.4,433.1 558.5,434.8 558.6,432.1 558.7,432.3 558.8,433.5 558.9,433.0 559.0,434.2 559.1,434.7 559.2,435.5 559.3,434.8 559.4,433.0 559.5,433.2 559.6,432.9 559.7,435.2 559.8,433.1 559.9,432.2 560.0,431.9 560.1,434.7 560.2,432.2 560.3,429.6 560.4,434.6 560.5,434.1 560.6,434.7 560.7,435.1 560.8,434.3 560.9,434.1 561.0,433.6 561.1,432.3 561.2,430.3 561.3,430.6 561.4,434.1 561.5,434.7 561.6,433.5 561.7,432.3 561.8,434.4 561.9,433.4 562.0,433.4 562.1,432.9 562.2,431.6 562.3,431.9 562.4,433.9 562.5,435.8 562.6,436.0 562.7,433.1 562.8,434.0 562.9,433.2 563.0,433.5 563.1,433.9 563.2,434.6 563.3,431.6 563.4,435.9 563.5,433.1 563.6,431.8 563.7,436.7 563.8,431.9 563.9,433.1 564.0,432.1 564.1,434.9 564.2,429.1 564.3,433.7 564.4,430.7 564.5,435.5 564.6,436.3 564.7,434.4 564.8,431.9 564.9,434.8 565.0,436.4 565.1,433.4 565.2,432.5 565.3,435.2 565.4,431.0 565.5,432.6 565.6,432.9 565.7,433.2 565.8,434.6 565.9,432.7 566.0,431.3 566.1,430.8 566.2,432.7 566.3,433.6 566.4,434.3 566.5,433.8 566.6,430.8 566.7,433.7 566.8,431.8 566.9,434.8 567.0,432.3 567.1,432.4 567.2,431.9 567.3,434.2 567.4,432.6 567.5,436.9 567.6,434.5 567.7,431.0 567.8,432.7 567.9,434.3 568.0,433.9 568.1,433.6 568.2,433.0 568.3,430.3 568.4,430.4 568.5,433.8 568.6,431.7 568.7,432.8 568.8,433.7 568.9,430.0 569.0,430.0 569.1,433.7 569.2,432.1 569.3,432.5 569.4,434.8 569.5,432.7 569.6,433.1 569.7,433.6 569.8,430.7 569.9,435.9 570.0,434.0 570.1,432.6 570.2,435.2 570.3,432.1 570.4,432.5 570.5,431.8 570.6,433.3 570.7,432.6 570.8,434.1 570.9,432.8 571.0,434.2 571.1,434.5 571.2,434.5 571.3,434.6 571.4,434.2 571.5,432.8 571.6,431.2 571.7,434.7 571.8,432.1 571.9,434.8 572.0,434.3 572.1,434.3 572.2,434.4 572.3,435.3 572.4,433.1 572.5,435.0 572.6,436.2 572.7,435.9 572.8,436.4 572.9,434.4 573.0,434.7 573.1,437.7 573.2,435.7 573.3,435.4 573.4,436.5 573.5,433.8 573.6,434.9 573.7,435.8 573.8,435.1 573.9,437.5 574.0,436.0 574.1,436.7 574.2,434.2 574.3,435.4 574.4,435.5 574.5,436.3 574.6,436.3 574.7,435.7 574.8,436.6 574.9,438.9 575.0,435.9 575.1,434.9 575.2,437.7 575.3,438.2 575.4,436.2 575.5,437.4 575.6,432.9 575.7,436.7 575.8,435.8 575.9,439.4 576.0,436.4 576.1,438.8 576.2,435.8 576.3,435.7 576.4,435.4 576.5,434.4 576.6,435.4 576.7,437.9 576.8,434.0 576.9,436.4 577.0,437.9 577.1,436.7 577.2,437.1 577.3,436.9 577.4,437.1 577.5,433.5 577.6,438.6 577.7,437.0 577.8,435.6 577.9,436.0 578.0,436.3 578.1,437.5 578.2,434.8 578.3,434.7 578.4,434.6 578.5,437.9 578.6,435.3 578.7,436.8 578.8,434.9 578.9,436.6 579.0,436.0 579.1,435.6 579.2,438.4 579.3,436.9 579.4,435.4 579.5,440.4 579.6,435.4 579.7,435.1 579.8,434.4 579.9,439.3 580.0,437.2 580.1,437.4 580.2,438.6 580.3,437.2 580.4,438.1 580.5,439.5 580.6,437.4 580.7,438.3 580.8,437.4 580.9,437.3 581.0,439.2 581.1,438.0 581.2,437.6 581.3,434.4 581.4,435.9 581.5,436.2 581.6,437.2 581.7,437.8 581.8,437.5 581.9,437.1 582.0,437.8 582.1,437.9 582.2,438.7 582.3,434.7 582.4,438.9 582.5,440.3 582.6,439.1 582.7,436.8 582.8,436.1 582.9,437.4 583.0,439.5 583.1,437.9 583.2,434.6 583.3,432.7 583.4,437.9 583.5,441.2 583.6,435.2 583.7,436.7 583.8,437.7 583.9,438.1 584.0,439.0 584.1,435.3 584.2,437.9 584.3,436.7 584.4,439.0 584.5,438.3 584.6,439.4 584.7,436.0 584.8,436.1 584.9,436.8 585.0,437.1 585.1,436.8 585.2,436.0 585.3,437.0 585.4,435.4 585.5,439.3 585.6,437.0 585.7,435.8 585.8,437.9 585.9,435.2 586.0,438.1 586.1,437.0 586.2,440.1 586.3,438.2 586.4,436.2 586.5,438.7 586.6,437.5 586.7,438.2 586.8,432.6 586.9,436.5 587.0,436.4 587.1,439.0 587.2,435.4 587.3,437.5 587.4,436.7 587.5,434.8 587.6,436.0 587.7,437.6 587.8,436.4 587.9,436.4 588.0,436.5 588.1,436.7 588.2,437.0 588.3,436.4 588.4,434.3 588.5,436.1 588.6,436.5 588.7,438.8 588.8,434.8 588.9,438.6 589.0,435.4 589.1,438.5 589.2,433.0 589.3,435.6 589.4,432.5 589.5,433.8 589.6,435.3 589.7,436.6 589.8,434.7 589.9,436.1 590.0,434.5 590.1,438.1 590.2,434.8 590.3,438.5 590.4,438.3 590.5,434.2 590.6,436.3 590.7,434.7 590.8,437.6 590.9,435.8 591.0,438.0 591.1,435.0 591.2,434.8 591.3,434.0 591.4,435.3 591.5,435.7 591.6,435.1 591.7,435.4 591.8,436.1 591.9,434.8 592.0,433.9 592.1,433.3 592.2,433.9 592.3,434.2 592.4,436.2 592.5,436.0 592.6,433.6 592.7,435.5 592.8,433.2 592.9,435.8 593.0,432.1 593.1,436.0 593.2,434.2 593.3,434.8 593.4,434.3 593.5,432.8 593.6,434.6 593.7,434.4 593.8,435.5 593.9,435.2 594.0,436.1 594.1,435.1 594.2,432.5 594.3,435.4 594.4,432.4 594.5,433.1 594.6,434.2 594.7,432.8 594.8,433.5 594.9,435.5 595.0,433.1 595.1,432.6 595.2,432.0 595.3,438.2 595.4,433.2 595.5,433.9 595.6,433.9 595.7,435.5 595.8,432.9 595.9,432.4 596.0,433.2 596.1,432.5 596.2,431.5 596.3,430.8 596.4,433.7 596.5,433.0 596.6,435.6 596.7,432.8 596.8,433.0 596.9,435.3 597.0,430.9 597.1,434.6 597.2,432.2 597.3,431.7 597.4,433.9 597.5,433.5 597.6,431.6 597.7,433.6 597.8,435.5 597.9,434.4 598.0,433.3 598.1,432.3 598.2,433.0 598.3,433.8 598.4,432.7 598.5,433.7 598.6,434.5 598.7,430.8 598.8,433.2 598.9,433.7 599.0,432.5 599.1,431.9 599.2,435.1 599.3,432.7 599.4,432.6 599.5,432.0 599.6,432.4 599.7,432.4 599.8,432.8 599.9,430.7 600.0,430.6 600.1,432.1 600.2,432.6 600.3,432.2 600.4,434.2 600.5,433.1 600.6,434.3 600.7,433.6 600.8,429.9 600.9,434.0 601.0,435.5 601.1,433.6 601.2,433.3 601.3,431.7 601.4,433.9 601.5,432.0 601.6,431.0 601.7,433.9 601.8,434.9 601.9,433.3 602.0,433.5 602.1,432.7 602.2,436.2 602.3,434.4 602.4,433.4 602.5,433.5 602.6,434.1 602.7,435.6 602.8,433.2 602.9,432.7 603.0,434.5 603.1,433.9 603.2,432.0 603.3,434.0 603.4,433.8 603.5,433.6 603.6,434.5 603.7,434.7 603.8,436.9 603.9,435.3 604.0,435.7 604.1,433.8 604.2,434.5 604.3,433.5 604.4,433.5 604.5,435.9 604.6,437.9 604.7,435.7 604.8,435.3 604.9,435.6 605.0,436.0 605.1,434.7 605.2,434.8 605.3,435.8 605.4,437.3 605.5,435.1 605.6,432.6 605.7,436.2 605.8,435.4 605.9,434.0 606.0,433.9 606.1,430.5 606.2,434.1 606.3,435.0 606.4,436.1 606.5,435.3 606.6,433.9 606.7,434.8 606.8,435.5 606.9,436.3 607.0,435.9 607.1,436.7 607.2,432.6 607.3,435.8 607.4,436.0 607.5,434.2 607.6,435.9 607.7,434.8 607.8,433.8 607.9,433.7 608.0,436.5 608.1,436.5 608.2,437.3 608.3,436.8 608.4,436.5 608.5,434.2 608.6,435.5 608.7,435.4 608.8,438.8 608.9,434.6 609.0,434.0 609.1,434.4 609.2,437.4 609.3,435.0 609.4,437.0 609.5,435.2 609.6,437.5 609.7,433.7 609.8,435.4 609.9,436.9 610.0,435.7 610.1,434.8 610.2,438.3 610.3,434.0 610.4,434.9 610.5,437.9 610.6,438.7 610.7,436.2 610.8,434.4 610.9,434.4 611.0,435.0 611.1,436.2 611.2,438.3 611.3,437.7 611.4,437.8 611.5,435.6 611.6,437.5 611.7,437.6 611.8,437.7 611.9,436.4 612.0,435.9 612.1,438.2 612.2,438.9 612.3,436.2 612.4,437.1 612.5,438.2 612.6,438.9 612.7,439.2 612.8,436.7 612.9,438.6 613.0,434.9 613.1,433.5 613.2,436.1 613.3,437.3 613.4,434.5 613.5,436.6 613.6,437.1 613.7,436.8 613.8,437.3 613.9,438.5 614.0,436.5 614.1,436.2 614.2,437.7 614.3,438.5 614.4,436.3 614.5,439.0 614.6,438.1 614.7,436.5 614.8,437.0 614.9,435.9 615.0,438.1 615.1,437.3 615.2,440.1 615.3,433.3 615.4,435.4 615.5,436.4 615.6,438.0 615.7,436.7 615.8,436.2 615.9,437.9 616.0,436.7 616.1,437.7 616.2,438.6 616.3,438.8 616.4,435.1 616.5,436.3 616.6,438.1 616.7,437.2 616.8,436.3 616.9,438.4 617.0,437.6 617.1,438.2 617.2,438.9 617.3,437.0 617.4,439.1 617.5,437.9 617.6,438.1 617.7,439.2 617.8,435.4 617.9,435.3 618.0,436.1 618.1,439.1 618.2,438.0 618.3,437.1 618.4,436.4 618.5,435.4 618.6,438.4 618.7,438.0 618.8,438.6 618.9,439.4 619.0,438.5 619.1,440.1 619.2,437.5 619.3,440.4 619.4,438.8 619.5,437.4 619.6,438.5 619.7,441.4 619.8,436.4 619.9,437.4 620.0,437.7 620.1,438.6 620.2,438.5 620.3,441.2 620.4,438.1 620.5,439.4 620.6,437.8 620.7,436.9 620.8,438.3 620.9,438.2 621.0,439.6 621.1,440.6 621.2,438.0 621.3,440.3 621.4,437.2 621.5,441.3 621.6,436.6 621.7,438.0 621.8,439.2 621.9,438.3 622.0,437.2 622.1,439.9 622.2,437.5 622.3,440.4 622.4,436.8 622.5,440.5 622.6,440.2 622.7,439.8 622.8,440.6 622.9,438.8 623.0,439.1 623.1,440.8 623.2,437.7 623.3,438.8 623.4,438.9 623.5,438.9 623.6,438.9 623.7,435.8 623.8,439.3 623.9,439.8 624.0,441.2 624.1,440.6 624.2,438.6 624.3,439.1 624.4,438.1 624.5,439.0 624.6,438.7 624.7,441.2 624.8,440.2 624.9,440.5 625.0,439.1 625.1,439.5 625.2,440.5 625.3,438.6 625.4,440.5 625.5,441.1 625.6,439.0 625.7,439.8 625.8,438.6 625.9,442.3 626.0,440.6 626.1,441.5 626.2,439.6 626.3,438.7 626.4,439.9 626.5,442.0 626.6,442.4 626.7,441.2 626.8,440.1 626.9,440.7 627.0,441.7 627.1,438.7 627.2,441.5 627.3,439.0 627.4,440.6 627.5,441.3 627.6,440.7 627.7,440.4 627.8,442.2 627.9,439.7 628.0,439.8 628.1,439.0 628.2,440.7 628.3,441.5 628.4,440.3 628.5,437.7 628.6,441.1 628.7,441.4 628.8,439.3 628.9,440.2 629.0,440.6 629.1,439.4 629.2,441.0 629.3,440.7 629.4,438.9 629.5,436.6 629.6,439.3 629.7,442.7 629.8,442.4 629.9,440.2 630.0,439.2 630.1,442.8 630.2,441.8 630.3,442.6 630.4,443.5 630.5,441.5 630.6,441.0 630.7,439.7 630.8,441.1 630.9,439.5 631.0,442.5 631.1,440.6 631.2,443.2 631.3,440.5 631.4,441.6 631.5,439.9 631.6,442.3 631.7,439.9 631.8,443.1 631.9,442.0 632.0,438.6 632.1,439.3 632.2,441.8 632.3,441.4 632.4,444.4 632.5,440.3 632.6,441.3 632.7,441.7 632.8,442.1 632.9,444.3 633.0,441.8 633.1,439.6 633.2,444.3 633.3,442.7 633.4,439.9 633.5,441.2 633.6,441.8 633.7,442.5 633.8,443.5 633.9,442.1 634.0,441.7 634.1,441.1 634.2,442.3 634.3,442.8 634.4,443.4 634.5,439.6 634.6,441.5 634.7,443.6 634.8,445.4 634.9,444.3 635.0,439.7 635.1,440.3 635.2,444.0 635.3,443.3 635.4,443.4 635.5,446.2 635.6,441.9 635.7,445.2 635.8,443.7 635.9,442.7 636.0,440.6 636.1,442.0 636.2,446.0 636.3,444.0 636.4,445.1 636.5,444.8 636.6,443.8 636.7,445.3 636.8,444.6 636.9,443.9 637.0,443.8 637.1,443.2 637.2,444.8 637.3,444.1 637.4,446.1 637.5,444.1 637.6,443.2 637.7,441.9 637.8,445.8 637.9,448.4 638.0,444.8 638.1,441.6 638.2,446.3 638.3,444.0 638.4,446.1 638.5,445.6 638.6,446.2 638.7,445.4 638.8,444.9 638.9,446.9 639.0,445.0 639.1,447.2 639.2,444.6 639.3,445.8 639.4,444.5 639.5,447.1 639.6,444.8 639.7,444.6 639.8,447.3 639.9,446.4 640.0,445.9 640.1,444.3 640.2,446.0 640.3,446.9 640.4,447.4 640.5,445.0 640.6,447.2 640.7,443.1 640.8,446.6 640.9,444.9 641.0,447.8 641.1,445.9 641.2,450.7 641.3,447.0 641.4,447.4 641.5,442.9 641.6,444.5 641.7,448.8 641.8,445.8 641.9,449.1 642.0,445.9 642.1,448.3 642.2,445.9 642.3,448.1 642.4,448.6 642.5,449.0 642.6,446.2 642.7,445.3 642.8,448.6 642.9,448.1 643.0,448.9 643.1,445.7 643.2,449.2 643.3,447.6 643.4,446.1 643.5,447.2 643.6,449.7 643.7,448.5 643.8,448.5 643.9,448.4 644.0,447.7 644.1,450.6 644.2,448.5 644.3,446.0 644.4,446.0 644.5,447.7 644.6,448.0 644.7,450.1 644.8,444.2 644.9,450.2 645.0,451.0 645.1,448.2 645.2,451.3 645.3,447.9 645.4,448.9 645.5,448.4 645.6,452.1 645.7,451.4 645.8,451.4 645.9,447.5 646.0,449.7 646.1,447.6 646.2,449.9 646.3,450.7 646.4,452.2 646.5,449.6 646.6,450.3 646.7,449.7 646.8,448.1 646.9,453.0 647.0,450.8 647.1,452.8 647.2,451.8 647.3,448.1 647.4,449.3 647.5,451.7 647.6,452.0 647.7,451.8 647.8,450.6 647.9,452.2 648.0,449.0 648.1,450.4 648.2,448.8 648.3,452.7 648.4,451.7 648.5,452.3 648.6,450.6 648.7,446.6 648.8,449.8 648.9,451.5 649.0,451.4 649.1,453.0 649.2,453.4 649.3,450.5 649.4,453.0 649.5,448.5 649.6,452.9 649.7,447.9 649.8,452.7 649.9,447.7 650.0,452.8 650.1,454.8 650.2,451.7 650.3,453.3 650.4,454.1 650.5,447.3 650.6,448.8 650.7,452.3 650.8,450.4 650.9,451.7 651.0,457.4 651.1,455.9 651.2,453.8 651.3,451.4 651.4,453.7 651.5,453.4 651.6,452.6 651.7,455.9 651.8,449.5 651.9,455.9 652.0,452.3 652.1,455.5 652.2,453.0 652.3,452.2 652.4,452.1 652.5,453.9 652.6,454.1 652.7,459.0 652.8,456.5 652.9,453.5 653.0,451.5 653.1,453.9 653.2,454.8 653.3,450.8 653.4,453.9 653.5,456.3 653.6,453.2 653.7,451.2 653.8,455.5 653.9,457.2 654.0,453.9 654.1,454.6 654.2,456.5 654.3,455.4 654.4,453.2 654.5,453.9 654.6,454.5 654.7,454.7 654.8,456.9 654.9,452.9 655.0,455.6 655.1,454.6 655.2,451.2 655.3,456.4 655.4,455.4 655.5,452.8 655.6,452.0 655.7,457.0 655.8,458.4 655.9,455.6 656.0,455.0 656.1,456.8 656.2,454.4 656.3,454.7 656.4,457.4 656.5,453.6 656.6,457.9 656.7,456.4 656.8,458.3 656.9,452.5 657.0,458.4 657.1,455.9 657.2,457.3 657.3,454.7 657.4,454.4 657.5,458.4 657.6,457.3 657.7,457.4 657.8,457.7 657.9,457.7 658.0,453.7 658.1,456.1 658.2,456.1 658.3,460.5 658.4,459.3 658.5,455.3 658.6,454.2 658.7,458.3 658.8,458.1 658.9,459.7 659.0,455.1 659.1,460.3 659.2,457.7 659.3,459.7 659.4,457.9 659.5,456.7 659.6,456.1 659.7,460.1 659.8,451.7 659.9,459.7 660.0,459.0 660.1,456.5 660.2,459.3 660.3,457.7 660.4,455.6 660.5,457.5 660.6,459.2 660.7,458.2 660.8,456.8 660.9,459.5 661.0,459.7 661.1,460.6 661.2,458.8 661.3,461.2 661.4,457.2 661.5,457.8 661.6,456.0 661.7,458.5 661.8,458.8 661.9,458.7 662.0,456.5 662.1,460.8 662.2,455.8 662.3,457.2 662.4,453.5 662.5,461.0 662.6,460.6 662.7,458.8 662.8,459.9 662.9,457.0 663.0,457.3 663.1,457.6 663.2,460.1 663.3,458.8 663.4,459.9 663.5,457.6 663.6,457.2 663.7,460.5 663.8,460.3 663.9,460.7 664.0,458.7 664.1,460.5 664.2,457.1 664.3,458.1 664.4,460.7 664.5,458.4 664.6,458.0 664.7,458.6 664.8,463.5 664.9,459.6 665.0,461.1 665.1,460.2 665.2,465.1 665.3,460.5 665.4,462.7 665.5,462.6 665.6,461.7 665.7,461.0 665.8,458.2 665.9,462.1 666.0,465.2 666.1,462.2 666.2,465.0 666.3,462.6 666.4,463.1 666.5,460.5 666.6,461.2 666.7,462.4 666.8,463.7 666.9,459.7 667.0,459.1 667.1,461.6 667.2,461.6 667.3,462.7 667.4,465.1 667.5,461.0 667.6,465.5 667.7,463.2 667.8,462.2 667.9,459.1 668.0,465.1 668.1,465.7 668.2,463.3 668.3,463.5 668.4,461.8 668.5,459.1 668.6,461.2 668.7,460.1 668.8,460.3 668.9,461.3 669.0,461.9 669.1,463.9 669.2,465.5 669.3,462.7 669.4,464.7 669.5,462.6 669.6,462.7 669.7,464.0 669.8,462.3 669.9,463.9 670.0,462.6 670.1,462.0 670.2,462.4 670.3,466.5 670.4,464.2 670.5,463.0 670.6,464.2 670.7,462.6 670.8,463.2 670.9,463.4 671.0,461.1 671.1,463.9 671.2,465.1 671.3,464.9 671.4,464.1 671.5,466.4 671.6,463.0 671.7,466.6 671.8,466.5 671.9,465.1 672.0,467.6 672.1,463.4 672.2,465.4 672.3,464.7 672.4,463.7 672.5,464.5 672.6,465.9 672.7,466.0 672.8,466.5 672.9,464.2 673.0,465.3 673.1,465.3 673.2,464.4 673.3,465.6 673.4,461.8 673.5,463.7 673.6,464.9 673.7,465.2 673.8,467.1 673.9,465.0 674.0,469.2 674.1,463.5 674.2,469.6 674.3,464.6 674.4,464.3 674.5,465.1 674.6,465.3 674.7,466.0 674.8,465.8 674.9,467.5 675.0,468.1 675.1,464.9 675.2,469.1 675.3,467.4 675.4,467.0 675.5,468.6 675.6,467.0 675.7,469.8 675.8,465.1 675.9,469.5 676.0,466.5 676.1,468.8 676.2,466.7 676.3,470.6 676.4,468.3 676.5,469.1 676.6,465.9 676.7,465.2 676.8,468.3 676.9,470.7 677.0,468.3 677.1,465.5 677.2,471.3 677.3,467.3 677.4,469.6 677.5,466.8 677.6,467.1 677.7,468.9 677.8,463.7 677.9,466.7 678.0,467.7 678.1,467.8 678.2,465.6 678.3,470.6 678.4,468.2 678.5,468.4 678.6,465.3 678.7,468.6 678.8,469.9 678.9,470.3 679.0,469.9 679.1,468.7 679.2,468.5 679.3,469.3 679.4,470.2 679.5,468.6 679.6,468.7 679.7,469.8 679.8,468.7 679.9,469.6 680.0,469.5 680.1,467.6 680.2,472.0 680.3,470.5 680.4,467.8 680.5,467.7 680.6,468.6 680.7,468.4 680.8,467.8 680.9,470.0 681.0,469.0 681.1,468.0 681.2,472.4 681.3,469.1 681.4,470.3 681.5,467.4 681.6,467.9 681.7,468.1 681.8,471.6 681.9,471.2 682.0,469.6 682.1,469.5 682.2,470.7 682.3,468.6 682.4,469.7 682.5,471.9 682.6,468.6 682.7,471.4 682.8,470.1 682.9,470.7 683.0,470.1 683.1,472.0 683.2,472.0 683.3,471.5 683.4,467.7 683.5,470.8 683.6,472.7 683.7,468.9 683.8,468.0 683.9,470.4 684.0,472.2 684.1,468.6 684.2,471.5 684.3,470.4 684.4,470.9 684.5,471.7 684.6,470.7 684.7,470.1 684.8,471.4 684.9,473.9 685.0,472.3 685.1,472.5 685.2,469.7 685.3,470.4 685.4,469.1 685.5,473.1 685.6,473.3 685.7,472.3 685.8,473.0 685.9,470.9 686.0,471.0 686.1,473.9 686.2,471.0 686.3,473.6 686.4,474.8 686.5,469.8 686.6,470.3 686.7,475.0 686.8,473.8 686.9,474.8 687.0,475.1 687.1,471.6 687.2,475.8 687.3,474.7 687.4,474.1 687.5,472.9 687.6,471.7 687.7,471.0 687.8,469.9 687.9,471.0 688.0,471.1 688.1,472.9 688.2,471.3 688.3,469.5 688.4,473.0 688.5,469.1 688.6,472.1 688.7,474.0 688.8,470.1 688.9,470.7 689.0,472.8 689.1,475.3 689.2,472.7 689.3,472.2 689.4,473.5 689.5,470.0 689.6,470.4 689.7,474.4 689.8,474.6 689.9,474.3 690.0,473.5 690.1,474.1 690.2,470.2 690.3,471.4 690.4,472.7 690.5,475.2 690.6,473.9 690.7,473.6 690.8,471.6 690.9,473.9 691.0,474.4 691.1,474.8 691.2,473.5 691.3,477.5 691.4,471.8 691.5,475.5 691.6,471.6 691.7,471.7 691.8,475.3 691.9,473.4 692.0,472.8 692.1,474.2 692.2,478.8 692.3,473.2 692.4,473.7 692.5,476.5 692.6,473.4 692.7,478.7 692.8,472.1 692.9,474.1 693.0,476.3 693.1,474.1 693.2,473.7 693.3,472.0 693.4,474.4 693.5,476.2 693.6,474.2 693.7,472.9 693.8,477.1 693.9,476.3 694.0,475.8 694.1,474.4 694.2,473.3 694.3,476.9 694.4,475.0 694.5,474.2 694.6,474.6 694.7,475.7 694.8,476.5 694.9,475.0 695.0,474.4 695.1,473.0 695.2,474.6 695.3,474.7 695.4,475.7 695.5,475.1 695.6,474.2 695.7,475.0 695.8,476.4 695.9,475.1 696.0,475.0 696.1,474.9 696.2,474.8 696.3,476.0 696.4,476.5 696.5,474.9 696.6,475.2 696.7,476.2 696.8,476.9 696.9,478.0 697.0,473.2 697.1,477.2 697.2,474.8 697.3,476.8 697.4,477.4 697.5,479.3 697.6,475.4 697.7,478.4 697.8,472.5 697.9,477.2 698.0,473.5 698.1,476.8 698.2,476.5 698.3,476.3 698.4,478.5 698.5,477.4" stroke="#000" stroke-width="2.25" fill="none" stroke-linejoin="round"/>
<path d="M697.6,475.4 697.7,478.4 697.8,472.5 697.9,477.2 698.0,473.5 698.1,476.8 698.2,476.5 698.3,476.3 698.4,478.5 698.5,477.4 698.6,477.6 698.7,478.3 698.8,479.0 698.9,480.6 699.0,479.6 699.1,479.3 699.2,478.5 699.3,481.8 699.4,481.7 699.5,482.3 699.6,480.8 699.7,483.5 699.8,482.8 699.9,485.3 700.0,482.0 700.1,483.7 700.2,485.0 700.3,482.7 700.4,483.2 700.5,482.7 700.6,483.2 700.7,484.8 700.8,484.2 700.9,482.7 701.0,487.6 701.1,483.5 701.2,486.2 701.3,484.9 701.4,486.0 701.5,486.0 701.6,486.5 701.7,486.7 701.8,488.1 701.9,485.1 702.0,484.4 702.1,484.2 702.2,483.8 702.3,487.4 702.4,484.6 702.5,485.0 702.6,487.6 702.7,487.1 702.8,487.8 702.9,484.3 703.0,486.3 703.1,486.2 703.2,488.4 703.3,488.5 703.4,489.3 703.5,490.6 703.6,493.8 703.7,488.6 703.8,490.4 703.9,490.9 704.0,489.7 704.1,488.7 704.2,491.4 704.3,491.6 704.4,491.4 704.5,489.8 704.6,488.0 704.7,489.8 704.8,493.0 704.9,493.1 705.0,490.4 705.1,492.3 705.2,493.9 705.3,494.1 705.4,491.3 705.5,492.4 705.6,492.8 705.7,491.6 705.8,495.6 705.9,491.1 706.0,494.2 706.1,495.2 706.2,494.6 706.3,495.2 706.4,491.4 706.5,494.6 706.6,495.2 706.7,495.3 706.8,493.4 706.9,495.0 707.0,494.4 707.1,497.6 707.2,495.0 707.3,495.9 707.4,496.0 707.5,496.2 707.6,498.9 707.7,498.8 707.8,497.5 707.9,496.8 708.0,496.8 708.1,495.1 708.2,497.9 708.3,498.4 708.4,497.9 708.5,497.1 708.6,500.1 708.7,499.8 708.8,499.1 708.9,501.2 709.0,499.6 709.1,501.9 709.2,499.4 709.3,500.1 709.4,499.2 709.5,501.4 709.6,499.8 709.7,501.1 709.8,501.0 709.9,500.0 710.0,504.1 710.1,502.8 710.2,501.2 710.3,502.9 710.4,502.4 710.5,501.5 710.6,504.8 710.7,503.6 710.8,503.5 710.9,503.6 711.0,504.0 711.1,504.3 711.2,503.8 711.3,503.9 711.4,503.9 711.5,501.8 711.6,503.6 711.7,505.6 711.8,506.1 711.9,504.4 712.0,503.2 712.1,505.7 712.2,503.3 712.3,503.1 712.4,502.7 712.5,501.9 712.6,507.2 712.7,504.8 712.8,501.0 712.9,503.8 713.0,502.7 713.1,506.3 713.2,504.3 713.3,504.2 713.4,506.2 713.5,507.6 713.6,504.5 713.7,505.5 713.8,504.3 713.9,507.0 714.0,506.1 714.1,506.1 714.2,504.9 714.3,508.0 714.4,505.7 714.5,507.8 714.6,507.9 714.7,504.8 714.8,506.2 714.9,506.8 715.0,505.1 715.1,506.4 715.2,507.1 715.3,504.5 715.4,506.3 715.5,507.2 715.6,506.2 715.7,506.1 715.8,505.0 715.9,507.0 716.0,507.3 716.1,506.9 716.2,508.9 716.3,507.2 716.4,506.7 716.5,509.6 716.6,508.3 716.7,508.9 716.8,509.2 716.9,506.8 717.0,506.2 717.1,509.8 717.2,505.1 717.3,507.0 717.4,509.9 717.5,506.9" stroke="#000" stroke-width="3.2" fill="none" stroke-linejoin="round"/>
<path d="M74.3,460.8 74.4,458.8 74.5,458.9 74.6,458.9 74.7,457.7 74.8,457.9 74.9,457.6 75.0,456.0 75.1,457.8 75.2,457.1 75.3,455.9 75.4,455.9 75.5,456.1 75.6,455.2 75.7,454.9 75.8,453.7 75.9,454.9 76.0,454.3 76.1,454.1 76.2,452.4 76.3,454.5 76.4,453.0 76.5,452.3 76.6,453.8 76.7,451.9 76.8,450.6 76.9,451.0 77.0,449.3 77.1,451.5 77.2,450.1 77.3,449.5 77.4,450.5 77.5,448.0 77.6,449.3 77.7,447.0 77.8,447.7 77.9,446.9 78.0,448.5 78.1,448.4 78.2,446.4 78.3,446.9 78.4,445.8 78.5,446.0 78.6,444.6 78.7,443.5 78.8,443.1 78.9,444.4 79.0,445.4 79.1,443.5 79.2,442.6 79.3,444.0 79.4,442.4 79.5,441.9 79.6,441.7 79.7,441.0 79.8,440.5 79.9,439.3 80.0,440.3 80.1,439.5 80.2,439.5 80.3,437.4 80.4,435.2 80.5,435.6 80.6,436.0 80.7,433.5 80.8,432.1 80.9,430.9 81.0,430.0 81.1,429.6 81.2,428.0 81.3,429.0 81.4,426.7 81.5,426.0 81.6,426.0 81.7,425.1 81.8,422.8 81.9,422.3 82.0,421.6 82.1,419.9 82.2,417.8 82.3,418.6 82.4,417.8 82.5,416.5 82.6,414.5 82.7,414.1 82.8,412.8 82.9,412.0 83.0,412.2 83.1,411.4 83.2,410.1 83.3,409.3 83.4,408.7 83.5,407.5 83.6,406.8 83.7,405.6 83.8,405.4 83.9,406.4 84.0,404.7 84.1,403.1 84.2,402.3 84.3,401.3 84.4,401.6 84.5,400.9 84.6,398.8 84.7,399.6 84.8,398.1 84.9,399.4 85.0,398.2 85.1,400.5 85.2,397.0" stroke="#000" stroke-width="2.6" fill="none" stroke-linejoin="round"/>
<g stroke="#000" stroke-width="2" fill="none">
<line x1="113.7" y1="396.9" x2="113.7" y2="402.94"/>
<line x1="195" y1="397.1" x2="195" y2="405.8308641975309"/>
<line x1="235" y1="399.2" x2="235" y2="406.0"/>
<line x1="315.4" y1="361.4" x2="315.4" y2="407.6658536585366"/>
<line x1="395.8" y1="383.6" x2="395.8" y2="413.2625"/>
<line x1="516.8" y1="410.7" x2="516.8" y2="428.88791208791207"/>
<line x1="556.9" y1="390.1" x2="556.9" y2="433.05316455696203"/>
<line x1="606.9" y1="281.1" x2="606.9" y2="435.4792079207921"/>
<line x1="637.1" y1="372.2" x2="637.1" y2="444.28000000000003"/>
<line x1="677.4" y1="435.1" x2="677.4" y2="468.2833333333333"/>
</g>
<text y="54" class="t"><tspan x="237.16" textLength="52.83" lengthAdjust="spacingAndGlyphs">X−band</tspan> <tspan x="296.35" textLength="17.80" lengthAdjust="spacingAndGlyphs">RF</tspan><tspan x="313.00" textLength="4.22" lengthAdjust="spacingAndGlyphs">I</tspan> <tspan x="324.26" textLength="24.03" lengthAdjust="spacingAndGlyphs">plot</tspan> <tspan x="356.36" textLength="41.85" lengthAdjust="spacingAndGlyphs">(mean</tspan> <tspan x="406.95" textLength="43.59" lengthAdjust="spacingAndGlyphs">power)</tspan> <tspan x="458.11" textLength="11.09" lengthAdjust="spacingAndGlyphs">−</tspan> <tspan x="476.34" textLength="11.48" lengthAdjust="spacingAndGlyphs">IF</tspan> <tspan x="495.08" textLength="7.87" lengthAdjust="spacingAndGlyphs">D</tspan> <tspan x="510.90" textLength="11.57" lengthAdjust="spacingAndGlyphs">−</tspan> <tspan x="528.29" textLength="32.77" lengthAdjust="spacingAndGlyphs">ea12</tspan></text>
<text y="143.2" class="t"><tspan x="524.09" textLength="15.38" lengthAdjust="spacingAndGlyphs">Az</tspan> <tspan x="547.42" textLength="10.60" lengthAdjust="spacingAndGlyphs">=</tspan> <tspan x="564.89" textLength="42.83" lengthAdjust="spacingAndGlyphs">359.7,</tspan> <tspan x="615.48" textLength="10.72" lengthAdjust="spacingAndGlyphs">El</tspan> <tspan x="634.13" textLength="9.87" lengthAdjust="spacingAndGlyphs">=</tspan> <tspan x="651.51" textLength="30.18" lengthAdjust="spacingAndGlyphs">88.0</tspan></text>
<text y="575.5" class="t"><tspan x="340.60" textLength="64.35" lengthAdjust="spacingAndGlyphs">frequency</tspan> <tspan x="412.91" textLength="39.21" lengthAdjust="spacingAndGlyphs">(MHz)</tspan></text>
<text x="114.69" y="547.7" class="t" textLength="62.68" lengthAdjust="spacingAndGlyphs">1.12×10<tspan dy="-6.9" font-size="10.8">4</tspan></text>
<text x="240.37" y="547.7" class="t" textLength="62.44" lengthAdjust="spacingAndGlyphs">1.14×10<tspan dy="-6.9" font-size="10.8">4</tspan></text>
<text x="365.97" y="547.7" class="t" textLength="62.29" lengthAdjust="spacingAndGlyphs">1.16×10<tspan dy="-6.9" font-size="10.8">4</tspan></text>
<text x="491.59" y="547.7" class="t" textLength="62.67" lengthAdjust="spacingAndGlyphs">1.18×10<tspan dy="-6.9" font-size="10.8">4</tspan></text>
<text x="621.54" y="547.7" class="t" textLength="53.73" lengthAdjust="spacingAndGlyphs">1.2×10<tspan dy="-6.9" font-size="10.8">4</tspan></text>
<text transform="translate(43.0,600) rotate(-90)" y="0" class="t"><tspan x="256.66" textLength="39.19" lengthAdjust="spacingAndGlyphs">power</tspan> <tspan x="301.96" textLength="30.36" lengthAdjust="spacingAndGlyphs">(dB)</tspan></text>
<text transform="translate(64.2,600) rotate(-90)" y="0" class="t"><tspan x="411.29" textLength="17.02" lengthAdjust="spacingAndGlyphs">40</tspan></text>
<text transform="translate(64.2,600) rotate(-90)" y="0" class="t"><tspan x="277.72" textLength="17.12" lengthAdjust="spacingAndGlyphs">20</tspan></text>
<text transform="translate(64.2,600) rotate(-90)" y="0" class="t"><tspan x="150.02" textLength="8.32" lengthAdjust="spacingAndGlyphs">0</tspan></text>

</svg>
</body></html>
